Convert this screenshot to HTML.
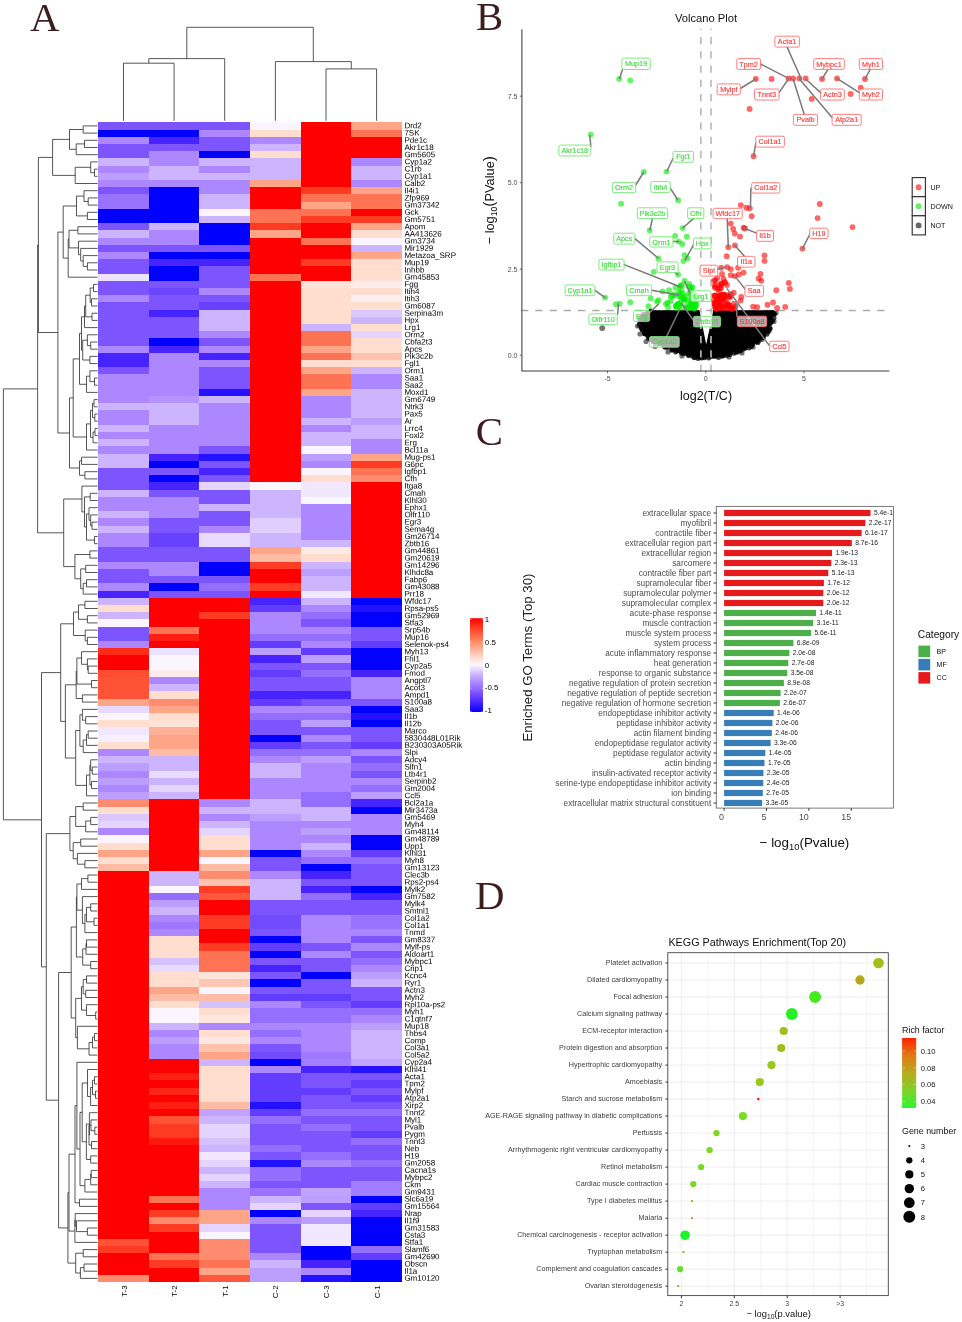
<!DOCTYPE html><html><head><meta charset="utf-8"><title>Figure</title><style>html,body{margin:0;padding:0;background:#fff}body{width:962px;height:1322px;overflow:hidden;font-family:"Liberation Sans",sans-serif}svg{display:block;will-change:transform}</style></head><body>
<svg width="962" height="1322" viewBox="0 0 962 1322" font-family="Liberation Sans, sans-serif">
<rect width="962" height="1322" fill="#fff"/>
<text x="29.9" y="30.5" font-family="Liberation Serif, serif" font-size="40.8" fill="#3d1e1e">A</text>
<text x="476.0" y="30.2" font-family="Liberation Serif, serif" font-size="40.8" fill="#3d1e1e">B</text>
<text x="475.7" y="445" font-family="Liberation Serif, serif" font-size="40.8" fill="#3d1e1e">C</text>
<text x="475.0" y="908.6" font-family="Liberation Serif, serif" font-size="40.8" fill="#3d1e1e">D</text>
<g shape-rendering="crispEdges">
<rect x="98.20" y="122.30" width="152.10" height="7.50" fill="rgb(125,85,255)"/>
<rect x="250.05" y="122.30" width="50.87" height="7.50" fill="rgb(250,245,255)"/>
<rect x="300.67" y="122.30" width="50.87" height="7.50" fill="rgb(255,0,0)"/>
<rect x="351.28" y="122.30" width="50.87" height="7.50" fill="rgb(255,165,135)"/>
<rect x="98.20" y="129.50" width="101.48" height="7.50" fill="rgb(0,0,255)"/>
<rect x="199.43" y="129.50" width="50.87" height="7.50" fill="rgb(172,135,255)"/>
<rect x="250.05" y="129.50" width="50.87" height="7.50" fill="rgb(255,222,208)"/>
<rect x="300.67" y="129.50" width="50.87" height="7.50" fill="rgb(255,0,0)"/>
<rect x="351.28" y="129.50" width="50.87" height="7.50" fill="rgb(255,115,85)"/>
<rect x="98.20" y="136.71" width="50.87" height="7.50" fill="rgb(172,135,255)"/>
<rect x="148.82" y="136.71" width="50.87" height="7.50" fill="rgb(70,35,255)"/>
<rect x="199.43" y="136.71" width="50.87" height="7.50" fill="rgb(125,85,255)"/>
<rect x="250.05" y="136.71" width="50.87" height="7.50" fill="rgb(172,135,255)"/>
<rect x="300.67" y="136.71" width="101.48" height="7.50" fill="rgb(255,0,0)"/>
<rect x="98.20" y="143.91" width="152.10" height="7.50" fill="rgb(125,85,255)"/>
<rect x="250.05" y="143.91" width="50.87" height="7.50" fill="rgb(205,180,255)"/>
<rect x="300.67" y="143.91" width="101.48" height="7.50" fill="rgb(255,0,0)"/>
<rect x="98.20" y="151.11" width="50.87" height="7.50" fill="rgb(125,85,255)"/>
<rect x="148.82" y="151.11" width="50.87" height="7.50" fill="rgb(172,135,255)"/>
<rect x="199.43" y="151.11" width="50.87" height="7.50" fill="rgb(0,0,255)"/>
<rect x="250.05" y="151.11" width="50.87" height="7.50" fill="rgb(255,222,208)"/>
<rect x="300.67" y="151.11" width="101.48" height="7.50" fill="rgb(255,0,0)"/>
<rect x="98.20" y="158.32" width="50.87" height="7.50" fill="rgb(205,180,255)"/>
<rect x="148.82" y="158.32" width="50.87" height="7.50" fill="rgb(172,135,255)"/>
<rect x="199.43" y="158.32" width="101.48" height="7.50" fill="rgb(205,180,255)"/>
<rect x="300.67" y="158.32" width="50.87" height="7.50" fill="rgb(255,0,0)"/>
<rect x="351.28" y="158.32" width="50.87" height="7.50" fill="rgb(172,135,255)"/>
<rect x="98.20" y="165.52" width="50.87" height="7.50" fill="rgb(172,135,255)"/>
<rect x="148.82" y="165.52" width="50.87" height="7.50" fill="rgb(205,180,255)"/>
<rect x="199.43" y="165.52" width="50.87" height="7.50" fill="rgb(172,135,255)"/>
<rect x="250.05" y="165.52" width="50.87" height="7.50" fill="rgb(205,180,255)"/>
<rect x="300.67" y="165.52" width="50.87" height="7.50" fill="rgb(255,0,0)"/>
<rect x="351.28" y="165.52" width="50.87" height="7.50" fill="rgb(205,180,255)"/>
<rect x="98.20" y="172.72" width="50.87" height="7.50" fill="rgb(188,158,255)"/>
<rect x="148.82" y="172.72" width="152.10" height="7.50" fill="rgb(205,180,255)"/>
<rect x="300.67" y="172.72" width="50.87" height="7.50" fill="rgb(255,0,0)"/>
<rect x="351.28" y="172.72" width="50.87" height="7.50" fill="rgb(205,180,255)"/>
<rect x="98.20" y="179.92" width="152.10" height="7.50" fill="rgb(172,135,255)"/>
<rect x="250.05" y="179.92" width="50.87" height="7.50" fill="rgb(255,165,135)"/>
<rect x="300.67" y="179.92" width="50.87" height="7.50" fill="rgb(255,0,0)"/>
<rect x="351.28" y="179.92" width="50.87" height="7.50" fill="rgb(172,135,255)"/>
<rect x="98.20" y="187.13" width="50.87" height="7.50" fill="rgb(125,85,255)"/>
<rect x="148.82" y="187.13" width="50.87" height="7.50" fill="rgb(0,0,255)"/>
<rect x="199.43" y="187.13" width="50.87" height="7.50" fill="rgb(172,135,255)"/>
<rect x="250.05" y="187.13" width="50.87" height="7.50" fill="rgb(255,0,0)"/>
<rect x="300.67" y="187.13" width="50.87" height="7.50" fill="rgb(255,60,35)"/>
<rect x="351.28" y="187.13" width="50.87" height="7.50" fill="rgb(255,165,135)"/>
<rect x="98.20" y="194.33" width="50.87" height="7.50" fill="rgb(153,115,255)"/>
<rect x="148.82" y="194.33" width="50.87" height="7.50" fill="rgb(0,0,255)"/>
<rect x="199.43" y="194.33" width="50.87" height="7.50" fill="rgb(205,180,255)"/>
<rect x="250.05" y="194.33" width="50.87" height="7.50" fill="rgb(255,0,0)"/>
<rect x="300.67" y="194.33" width="101.48" height="7.50" fill="rgb(255,115,85)"/>
<rect x="98.20" y="201.53" width="50.87" height="7.50" fill="rgb(153,115,255)"/>
<rect x="148.82" y="201.53" width="50.87" height="7.50" fill="rgb(0,0,255)"/>
<rect x="199.43" y="201.53" width="50.87" height="7.50" fill="rgb(205,180,255)"/>
<rect x="250.05" y="201.53" width="50.87" height="7.50" fill="rgb(255,0,0)"/>
<rect x="300.67" y="201.53" width="50.87" height="7.50" fill="rgb(255,165,135)"/>
<rect x="351.28" y="201.53" width="50.87" height="7.50" fill="rgb(255,115,85)"/>
<rect x="98.20" y="208.74" width="101.48" height="7.50" fill="rgb(0,0,255)"/>
<rect x="199.43" y="208.74" width="50.87" height="7.50" fill="rgb(250,245,255)"/>
<rect x="250.05" y="208.74" width="101.48" height="7.50" fill="rgb(255,115,85)"/>
<rect x="351.28" y="208.74" width="50.87" height="7.50" fill="rgb(255,0,0)"/>
<rect x="98.20" y="215.94" width="101.48" height="7.50" fill="rgb(0,0,255)"/>
<rect x="199.43" y="215.94" width="50.87" height="7.50" fill="rgb(205,180,255)"/>
<rect x="250.05" y="215.94" width="50.87" height="7.50" fill="rgb(255,115,85)"/>
<rect x="300.67" y="215.94" width="101.48" height="7.50" fill="rgb(255,60,35)"/>
<rect x="98.20" y="223.14" width="50.87" height="7.50" fill="rgb(125,85,255)"/>
<rect x="148.82" y="223.14" width="50.87" height="7.50" fill="rgb(205,180,255)"/>
<rect x="199.43" y="223.14" width="50.87" height="7.50" fill="rgb(0,0,255)"/>
<rect x="250.05" y="223.14" width="50.87" height="7.50" fill="rgb(255,60,35)"/>
<rect x="300.67" y="223.14" width="50.87" height="7.50" fill="rgb(255,0,0)"/>
<rect x="351.28" y="223.14" width="50.87" height="7.50" fill="rgb(255,165,135)"/>
<rect x="98.20" y="230.35" width="50.87" height="7.50" fill="rgb(205,180,255)"/>
<rect x="148.82" y="230.35" width="50.87" height="7.50" fill="rgb(172,135,255)"/>
<rect x="199.43" y="230.35" width="50.87" height="7.50" fill="rgb(0,0,255)"/>
<rect x="250.05" y="230.35" width="50.87" height="7.50" fill="rgb(255,165,135)"/>
<rect x="300.67" y="230.35" width="50.87" height="7.50" fill="rgb(255,0,0)"/>
<rect x="351.28" y="230.35" width="50.87" height="7.50" fill="rgb(255,222,208)"/>
<rect x="98.20" y="237.55" width="101.48" height="7.50" fill="rgb(172,135,255)"/>
<rect x="199.43" y="237.55" width="50.87" height="7.50" fill="rgb(0,0,255)"/>
<rect x="250.05" y="237.55" width="50.87" height="7.50" fill="rgb(255,0,0)"/>
<rect x="300.67" y="237.55" width="50.87" height="7.50" fill="rgb(255,115,85)"/>
<rect x="351.28" y="237.55" width="50.87" height="7.50" fill="rgb(250,245,255)"/>
<rect x="98.20" y="244.75" width="152.10" height="7.50" fill="rgb(125,85,255)"/>
<rect x="250.05" y="244.75" width="101.48" height="7.50" fill="rgb(255,0,0)"/>
<rect x="351.28" y="244.75" width="50.87" height="7.50" fill="rgb(205,180,255)"/>
<rect x="98.20" y="251.96" width="50.87" height="7.50" fill="rgb(172,135,255)"/>
<rect x="148.82" y="251.96" width="101.48" height="7.50" fill="rgb(0,0,255)"/>
<rect x="250.05" y="251.96" width="101.48" height="7.50" fill="rgb(255,0,0)"/>
<rect x="351.28" y="251.96" width="50.87" height="7.50" fill="rgb(255,165,135)"/>
<rect x="98.20" y="259.16" width="50.87" height="7.50" fill="rgb(125,85,255)"/>
<rect x="148.82" y="259.16" width="101.48" height="7.50" fill="rgb(70,35,255)"/>
<rect x="250.05" y="259.16" width="50.87" height="7.50" fill="rgb(255,0,0)"/>
<rect x="300.67" y="259.16" width="50.87" height="7.50" fill="rgb(255,60,35)"/>
<rect x="351.28" y="259.16" width="50.87" height="7.50" fill="rgb(255,222,208)"/>
<rect x="98.20" y="266.36" width="50.87" height="7.50" fill="rgb(125,85,255)"/>
<rect x="148.82" y="266.36" width="50.87" height="7.50" fill="rgb(0,0,255)"/>
<rect x="199.43" y="266.36" width="50.87" height="7.50" fill="rgb(125,85,255)"/>
<rect x="250.05" y="266.36" width="101.48" height="7.50" fill="rgb(255,0,0)"/>
<rect x="351.28" y="266.36" width="50.87" height="7.50" fill="rgb(255,222,208)"/>
<rect x="98.20" y="273.57" width="50.87" height="7.50" fill="rgb(236,226,255)"/>
<rect x="148.82" y="273.57" width="50.87" height="7.50" fill="rgb(0,0,255)"/>
<rect x="199.43" y="273.57" width="50.87" height="7.50" fill="rgb(125,85,255)"/>
<rect x="250.05" y="273.57" width="50.87" height="7.50" fill="rgb(255,115,85)"/>
<rect x="300.67" y="273.57" width="50.87" height="7.50" fill="rgb(255,0,0)"/>
<rect x="351.28" y="273.57" width="50.87" height="7.50" fill="rgb(255,222,208)"/>
<rect x="98.20" y="280.77" width="152.10" height="7.50" fill="rgb(125,85,255)"/>
<rect x="250.05" y="280.77" width="50.87" height="7.50" fill="rgb(255,0,0)"/>
<rect x="300.67" y="280.77" width="50.87" height="7.50" fill="rgb(254,227,217)"/>
<rect x="351.28" y="280.77" width="50.87" height="7.50" fill="rgb(252,236,236)"/>
<rect x="98.20" y="287.97" width="50.87" height="7.50" fill="rgb(125,85,255)"/>
<rect x="148.82" y="287.97" width="50.87" height="7.50" fill="rgb(108,70,255)"/>
<rect x="199.43" y="287.97" width="50.87" height="7.50" fill="rgb(172,135,255)"/>
<rect x="250.05" y="287.97" width="50.87" height="7.50" fill="rgb(255,0,0)"/>
<rect x="300.67" y="287.97" width="101.48" height="7.50" fill="rgb(255,222,208)"/>
<rect x="98.20" y="295.17" width="50.87" height="7.50" fill="rgb(172,135,255)"/>
<rect x="148.82" y="295.17" width="101.48" height="7.50" fill="rgb(125,85,255)"/>
<rect x="250.05" y="295.17" width="50.87" height="7.50" fill="rgb(255,0,0)"/>
<rect x="300.67" y="295.17" width="50.87" height="7.50" fill="rgb(255,222,208)"/>
<rect x="351.28" y="295.17" width="50.87" height="7.50" fill="rgb(252,238,241)"/>
<rect x="98.20" y="302.38" width="101.48" height="7.50" fill="rgb(125,85,255)"/>
<rect x="199.43" y="302.38" width="50.87" height="7.50" fill="rgb(103,65,255)"/>
<rect x="250.05" y="302.38" width="50.87" height="7.50" fill="rgb(255,0,0)"/>
<rect x="300.67" y="302.38" width="101.48" height="7.50" fill="rgb(255,222,208)"/>
<rect x="98.20" y="309.58" width="50.87" height="7.50" fill="rgb(125,85,255)"/>
<rect x="148.82" y="309.58" width="50.87" height="7.50" fill="rgb(70,35,255)"/>
<rect x="199.43" y="309.58" width="50.87" height="7.50" fill="rgb(205,180,255)"/>
<rect x="250.05" y="309.58" width="50.87" height="7.50" fill="rgb(255,0,0)"/>
<rect x="300.67" y="309.58" width="50.87" height="7.50" fill="rgb(255,222,208)"/>
<rect x="351.28" y="309.58" width="50.87" height="7.50" fill="rgb(218,200,255)"/>
<rect x="98.20" y="316.78" width="101.48" height="7.50" fill="rgb(125,85,255)"/>
<rect x="199.43" y="316.78" width="50.87" height="7.50" fill="rgb(205,180,255)"/>
<rect x="250.05" y="316.78" width="50.87" height="7.50" fill="rgb(255,0,0)"/>
<rect x="300.67" y="316.78" width="50.87" height="7.50" fill="rgb(255,222,208)"/>
<rect x="351.28" y="316.78" width="50.87" height="7.50" fill="rgb(205,180,255)"/>
<rect x="98.20" y="323.99" width="101.48" height="7.50" fill="rgb(125,85,255)"/>
<rect x="199.43" y="323.99" width="50.87" height="7.50" fill="rgb(205,180,255)"/>
<rect x="250.05" y="323.99" width="50.87" height="7.50" fill="rgb(255,0,0)"/>
<rect x="300.67" y="323.99" width="50.87" height="7.50" fill="rgb(205,180,255)"/>
<rect x="351.28" y="323.99" width="50.87" height="7.50" fill="rgb(255,222,208)"/>
<rect x="98.20" y="331.19" width="101.48" height="7.50" fill="rgb(125,85,255)"/>
<rect x="199.43" y="331.19" width="50.87" height="7.50" fill="rgb(172,135,255)"/>
<rect x="250.05" y="331.19" width="50.87" height="7.50" fill="rgb(255,0,0)"/>
<rect x="300.67" y="331.19" width="50.87" height="7.50" fill="rgb(255,115,85)"/>
<rect x="351.28" y="331.19" width="50.87" height="7.50" fill="rgb(228,212,255)"/>
<rect x="98.20" y="338.39" width="50.87" height="7.50" fill="rgb(125,85,255)"/>
<rect x="148.82" y="338.39" width="50.87" height="7.50" fill="rgb(0,0,255)"/>
<rect x="199.43" y="338.39" width="50.87" height="7.50" fill="rgb(125,85,255)"/>
<rect x="250.05" y="338.39" width="50.87" height="7.50" fill="rgb(255,0,0)"/>
<rect x="300.67" y="338.39" width="50.87" height="7.50" fill="rgb(255,115,85)"/>
<rect x="351.28" y="338.39" width="50.87" height="7.50" fill="rgb(255,222,208)"/>
<rect x="98.20" y="345.60" width="50.87" height="7.50" fill="rgb(172,135,255)"/>
<rect x="148.82" y="345.60" width="50.87" height="7.50" fill="rgb(70,35,255)"/>
<rect x="199.43" y="345.60" width="50.87" height="7.50" fill="rgb(172,135,255)"/>
<rect x="250.05" y="345.60" width="50.87" height="7.50" fill="rgb(255,0,0)"/>
<rect x="300.67" y="345.60" width="50.87" height="7.50" fill="rgb(255,165,135)"/>
<rect x="351.28" y="345.60" width="50.87" height="7.50" fill="rgb(255,222,208)"/>
<rect x="98.20" y="352.80" width="50.87" height="7.50" fill="rgb(70,35,255)"/>
<rect x="148.82" y="352.80" width="50.87" height="7.50" fill="rgb(172,135,255)"/>
<rect x="199.43" y="352.80" width="50.87" height="7.50" fill="rgb(70,35,255)"/>
<rect x="250.05" y="352.80" width="50.87" height="7.50" fill="rgb(255,0,0)"/>
<rect x="300.67" y="352.80" width="50.87" height="7.50" fill="rgb(255,115,85)"/>
<rect x="351.28" y="352.80" width="50.87" height="7.50" fill="rgb(255,194,172)"/>
<rect x="98.20" y="360.00" width="50.87" height="7.50" fill="rgb(70,35,255)"/>
<rect x="148.82" y="360.00" width="101.48" height="7.50" fill="rgb(172,135,255)"/>
<rect x="250.05" y="360.00" width="50.87" height="7.50" fill="rgb(255,0,0)"/>
<rect x="300.67" y="360.00" width="101.48" height="7.50" fill="rgb(255,222,208)"/>
<rect x="98.20" y="367.21" width="50.87" height="7.50" fill="rgb(125,85,255)"/>
<rect x="148.82" y="367.21" width="50.87" height="7.50" fill="rgb(172,135,255)"/>
<rect x="199.43" y="367.21" width="50.87" height="7.50" fill="rgb(125,85,255)"/>
<rect x="250.05" y="367.21" width="50.87" height="7.50" fill="rgb(255,0,0)"/>
<rect x="300.67" y="367.21" width="50.87" height="7.50" fill="rgb(255,165,135)"/>
<rect x="351.28" y="367.21" width="50.87" height="7.50" fill="rgb(205,180,255)"/>
<rect x="98.20" y="374.41" width="101.48" height="7.50" fill="rgb(172,135,255)"/>
<rect x="199.43" y="374.41" width="50.87" height="7.50" fill="rgb(125,85,255)"/>
<rect x="250.05" y="374.41" width="50.87" height="7.50" fill="rgb(255,0,0)"/>
<rect x="300.67" y="374.41" width="50.87" height="7.50" fill="rgb(255,115,85)"/>
<rect x="351.28" y="374.41" width="50.87" height="7.50" fill="rgb(172,135,255)"/>
<rect x="98.20" y="381.61" width="101.48" height="7.50" fill="rgb(172,135,255)"/>
<rect x="199.43" y="381.61" width="50.87" height="7.50" fill="rgb(125,85,255)"/>
<rect x="250.05" y="381.61" width="50.87" height="7.50" fill="rgb(255,0,0)"/>
<rect x="300.67" y="381.61" width="50.87" height="7.50" fill="rgb(255,115,85)"/>
<rect x="351.28" y="381.61" width="50.87" height="7.50" fill="rgb(172,135,255)"/>
<rect x="98.20" y="388.81" width="101.48" height="7.50" fill="rgb(172,135,255)"/>
<rect x="199.43" y="388.81" width="50.87" height="7.50" fill="rgb(35,18,255)"/>
<rect x="250.05" y="388.81" width="50.87" height="7.50" fill="rgb(255,0,0)"/>
<rect x="300.67" y="388.81" width="50.87" height="7.50" fill="rgb(255,165,135)"/>
<rect x="351.28" y="388.81" width="50.87" height="7.50" fill="rgb(205,180,255)"/>
<rect x="98.20" y="396.02" width="50.87" height="7.50" fill="rgb(172,135,255)"/>
<rect x="148.82" y="396.02" width="50.87" height="7.50" fill="rgb(182,148,255)"/>
<rect x="199.43" y="396.02" width="50.87" height="7.50" fill="rgb(205,180,255)"/>
<rect x="250.05" y="396.02" width="50.87" height="7.50" fill="rgb(255,0,0)"/>
<rect x="300.67" y="396.02" width="50.87" height="7.50" fill="rgb(172,135,255)"/>
<rect x="351.28" y="396.02" width="50.87" height="7.50" fill="rgb(205,180,255)"/>
<rect x="98.20" y="403.22" width="101.48" height="7.50" fill="rgb(205,180,255)"/>
<rect x="199.43" y="403.22" width="50.87" height="7.50" fill="rgb(172,135,255)"/>
<rect x="250.05" y="403.22" width="50.87" height="7.50" fill="rgb(255,0,0)"/>
<rect x="300.67" y="403.22" width="50.87" height="7.50" fill="rgb(172,135,255)"/>
<rect x="351.28" y="403.22" width="50.87" height="7.50" fill="rgb(205,180,255)"/>
<rect x="98.20" y="410.42" width="50.87" height="7.50" fill="rgb(172,135,255)"/>
<rect x="148.82" y="410.42" width="50.87" height="7.50" fill="rgb(205,180,255)"/>
<rect x="199.43" y="410.42" width="50.87" height="7.50" fill="rgb(172,135,255)"/>
<rect x="250.05" y="410.42" width="50.87" height="7.50" fill="rgb(255,0,0)"/>
<rect x="300.67" y="410.42" width="50.87" height="7.50" fill="rgb(172,135,255)"/>
<rect x="351.28" y="410.42" width="50.87" height="7.50" fill="rgb(205,180,255)"/>
<rect x="98.20" y="417.63" width="50.87" height="7.50" fill="rgb(172,135,255)"/>
<rect x="148.82" y="417.63" width="50.87" height="7.50" fill="rgb(205,180,255)"/>
<rect x="199.43" y="417.63" width="50.87" height="7.50" fill="rgb(172,135,255)"/>
<rect x="250.05" y="417.63" width="50.87" height="7.50" fill="rgb(255,0,0)"/>
<rect x="300.67" y="417.63" width="50.87" height="7.50" fill="rgb(205,180,255)"/>
<rect x="351.28" y="417.63" width="50.87" height="7.50" fill="rgb(188,158,255)"/>
<rect x="98.20" y="424.83" width="50.87" height="7.50" fill="rgb(205,180,255)"/>
<rect x="148.82" y="424.83" width="101.48" height="7.50" fill="rgb(172,135,255)"/>
<rect x="250.05" y="424.83" width="50.87" height="7.50" fill="rgb(255,0,0)"/>
<rect x="300.67" y="424.83" width="50.87" height="7.50" fill="rgb(172,135,255)"/>
<rect x="351.28" y="424.83" width="50.87" height="7.50" fill="rgb(205,180,255)"/>
<rect x="98.20" y="432.03" width="152.10" height="7.50" fill="rgb(172,135,255)"/>
<rect x="250.05" y="432.03" width="50.87" height="7.50" fill="rgb(255,0,0)"/>
<rect x="300.67" y="432.03" width="101.48" height="7.50" fill="rgb(205,180,255)"/>
<rect x="98.20" y="439.24" width="50.87" height="7.50" fill="rgb(205,180,255)"/>
<rect x="148.82" y="439.24" width="101.48" height="7.50" fill="rgb(172,135,255)"/>
<rect x="250.05" y="439.24" width="50.87" height="7.50" fill="rgb(255,0,0)"/>
<rect x="300.67" y="439.24" width="50.87" height="7.50" fill="rgb(205,180,255)"/>
<rect x="351.28" y="439.24" width="50.87" height="7.50" fill="rgb(172,135,255)"/>
<rect x="98.20" y="446.44" width="101.48" height="7.50" fill="rgb(172,135,255)"/>
<rect x="199.43" y="446.44" width="50.87" height="7.50" fill="rgb(125,85,255)"/>
<rect x="250.05" y="446.44" width="50.87" height="7.50" fill="rgb(255,0,0)"/>
<rect x="300.67" y="446.44" width="50.87" height="7.50" fill="rgb(250,245,255)"/>
<rect x="351.28" y="446.44" width="50.87" height="7.50" fill="rgb(172,135,255)"/>
<rect x="98.20" y="453.64" width="50.87" height="7.50" fill="rgb(205,180,255)"/>
<rect x="148.82" y="453.64" width="50.87" height="7.50" fill="rgb(70,35,255)"/>
<rect x="199.43" y="453.64" width="50.87" height="7.50" fill="rgb(35,18,255)"/>
<rect x="250.05" y="453.64" width="50.87" height="7.50" fill="rgb(255,0,0)"/>
<rect x="300.67" y="453.64" width="50.87" height="7.50" fill="rgb(188,158,255)"/>
<rect x="351.28" y="453.64" width="50.87" height="7.50" fill="rgb(255,165,135)"/>
<rect x="98.20" y="460.85" width="50.87" height="7.50" fill="rgb(205,180,255)"/>
<rect x="148.82" y="460.85" width="50.87" height="7.50" fill="rgb(0,0,255)"/>
<rect x="199.43" y="460.85" width="50.87" height="7.50" fill="rgb(125,85,255)"/>
<rect x="250.05" y="460.85" width="50.87" height="7.50" fill="rgb(255,0,0)"/>
<rect x="300.67" y="460.85" width="50.87" height="7.50" fill="rgb(172,135,255)"/>
<rect x="351.28" y="460.85" width="50.87" height="7.50" fill="rgb(255,60,35)"/>
<rect x="98.20" y="468.05" width="101.48" height="7.50" fill="rgb(125,85,255)"/>
<rect x="199.43" y="468.05" width="50.87" height="7.50" fill="rgb(70,35,255)"/>
<rect x="250.05" y="468.05" width="50.87" height="7.50" fill="rgb(255,0,0)"/>
<rect x="300.67" y="468.05" width="50.87" height="7.50" fill="rgb(250,245,255)"/>
<rect x="351.28" y="468.05" width="50.87" height="7.50" fill="rgb(255,115,85)"/>
<rect x="98.20" y="475.25" width="50.87" height="7.50" fill="rgb(125,85,255)"/>
<rect x="148.82" y="475.25" width="50.87" height="7.50" fill="rgb(0,0,255)"/>
<rect x="199.43" y="475.25" width="50.87" height="7.50" fill="rgb(125,85,255)"/>
<rect x="250.05" y="475.25" width="50.87" height="7.50" fill="rgb(255,0,0)"/>
<rect x="300.67" y="475.25" width="50.87" height="7.50" fill="rgb(255,222,208)"/>
<rect x="351.28" y="475.25" width="50.87" height="7.50" fill="rgb(255,140,110)"/>
<rect x="98.20" y="482.46" width="50.87" height="7.50" fill="rgb(125,85,255)"/>
<rect x="148.82" y="482.46" width="50.87" height="7.50" fill="rgb(70,35,255)"/>
<rect x="199.43" y="482.46" width="50.87" height="7.50" fill="rgb(228,212,255)"/>
<rect x="250.05" y="482.46" width="50.87" height="7.50" fill="rgb(250,245,255)"/>
<rect x="300.67" y="482.46" width="50.87" height="7.50" fill="rgb(241,232,255)"/>
<rect x="351.28" y="482.46" width="50.87" height="7.50" fill="rgb(255,0,0)"/>
<rect x="98.20" y="489.66" width="50.87" height="7.50" fill="rgb(205,180,255)"/>
<rect x="148.82" y="489.66" width="101.48" height="7.50" fill="rgb(125,85,255)"/>
<rect x="250.05" y="489.66" width="50.87" height="7.50" fill="rgb(205,180,255)"/>
<rect x="300.67" y="489.66" width="50.87" height="7.50" fill="rgb(241,232,255)"/>
<rect x="351.28" y="489.66" width="50.87" height="7.50" fill="rgb(255,0,0)"/>
<rect x="98.20" y="496.86" width="101.48" height="7.50" fill="rgb(172,135,255)"/>
<rect x="199.43" y="496.86" width="50.87" height="7.50" fill="rgb(125,85,255)"/>
<rect x="250.05" y="496.86" width="50.87" height="7.50" fill="rgb(205,180,255)"/>
<rect x="300.67" y="496.86" width="50.87" height="7.50" fill="rgb(250,245,255)"/>
<rect x="351.28" y="496.86" width="50.87" height="7.50" fill="rgb(255,0,0)"/>
<rect x="98.20" y="504.06" width="101.48" height="7.50" fill="rgb(172,135,255)"/>
<rect x="199.43" y="504.06" width="101.48" height="7.50" fill="rgb(205,180,255)"/>
<rect x="300.67" y="504.06" width="50.87" height="7.50" fill="rgb(172,135,255)"/>
<rect x="351.28" y="504.06" width="50.87" height="7.50" fill="rgb(255,0,0)"/>
<rect x="98.20" y="511.27" width="50.87" height="7.50" fill="rgb(205,180,255)"/>
<rect x="148.82" y="511.27" width="50.87" height="7.50" fill="rgb(172,135,255)"/>
<rect x="199.43" y="511.27" width="50.87" height="7.50" fill="rgb(125,85,255)"/>
<rect x="250.05" y="511.27" width="50.87" height="7.50" fill="rgb(205,180,255)"/>
<rect x="300.67" y="511.27" width="50.87" height="7.50" fill="rgb(172,135,255)"/>
<rect x="351.28" y="511.27" width="50.87" height="7.50" fill="rgb(255,0,0)"/>
<rect x="98.20" y="518.47" width="50.87" height="7.50" fill="rgb(172,135,255)"/>
<rect x="148.82" y="518.47" width="101.48" height="7.50" fill="rgb(125,85,255)"/>
<rect x="250.05" y="518.47" width="50.87" height="7.50" fill="rgb(223,206,255)"/>
<rect x="300.67" y="518.47" width="50.87" height="7.50" fill="rgb(172,135,255)"/>
<rect x="351.28" y="518.47" width="50.87" height="7.50" fill="rgb(255,0,0)"/>
<rect x="98.20" y="525.67" width="50.87" height="7.50" fill="rgb(205,180,255)"/>
<rect x="148.82" y="525.67" width="50.87" height="7.50" fill="rgb(125,85,255)"/>
<rect x="199.43" y="525.67" width="50.87" height="7.50" fill="rgb(172,135,255)"/>
<rect x="250.05" y="525.67" width="50.87" height="7.50" fill="rgb(223,206,255)"/>
<rect x="300.67" y="525.67" width="50.87" height="7.50" fill="rgb(172,135,255)"/>
<rect x="351.28" y="525.67" width="50.87" height="7.50" fill="rgb(255,0,0)"/>
<rect x="98.20" y="532.88" width="50.87" height="7.50" fill="rgb(172,135,255)"/>
<rect x="148.82" y="532.88" width="50.87" height="7.50" fill="rgb(103,65,255)"/>
<rect x="199.43" y="532.88" width="50.87" height="7.50" fill="rgb(232,219,255)"/>
<rect x="250.05" y="532.88" width="50.87" height="7.50" fill="rgb(205,180,255)"/>
<rect x="300.67" y="532.88" width="50.87" height="7.50" fill="rgb(172,135,255)"/>
<rect x="351.28" y="532.88" width="50.87" height="7.50" fill="rgb(255,0,0)"/>
<rect x="98.20" y="540.08" width="50.87" height="7.50" fill="rgb(172,135,255)"/>
<rect x="148.82" y="540.08" width="50.87" height="7.50" fill="rgb(103,65,255)"/>
<rect x="199.43" y="540.08" width="50.87" height="7.50" fill="rgb(232,219,255)"/>
<rect x="250.05" y="540.08" width="101.48" height="7.50" fill="rgb(205,180,255)"/>
<rect x="351.28" y="540.08" width="50.87" height="7.50" fill="rgb(255,0,0)"/>
<rect x="98.20" y="547.28" width="152.10" height="7.50" fill="rgb(125,85,255)"/>
<rect x="250.05" y="547.28" width="50.87" height="7.50" fill="rgb(255,165,135)"/>
<rect x="300.67" y="547.28" width="50.87" height="7.50" fill="rgb(252,234,232)"/>
<rect x="351.28" y="547.28" width="50.87" height="7.50" fill="rgb(255,0,0)"/>
<rect x="98.20" y="554.49" width="152.10" height="7.50" fill="rgb(125,85,255)"/>
<rect x="250.05" y="554.49" width="50.87" height="7.50" fill="rgb(255,188,164)"/>
<rect x="300.67" y="554.49" width="50.87" height="7.50" fill="rgb(255,222,208)"/>
<rect x="351.28" y="554.49" width="50.87" height="7.50" fill="rgb(255,0,0)"/>
<rect x="98.20" y="561.69" width="101.48" height="7.50" fill="rgb(172,135,255)"/>
<rect x="199.43" y="561.69" width="50.87" height="7.50" fill="rgb(0,0,255)"/>
<rect x="250.05" y="561.69" width="50.87" height="7.50" fill="rgb(255,60,35)"/>
<rect x="300.67" y="561.69" width="50.87" height="7.50" fill="rgb(205,180,255)"/>
<rect x="351.28" y="561.69" width="50.87" height="7.50" fill="rgb(255,0,0)"/>
<rect x="98.20" y="568.89" width="50.87" height="7.50" fill="rgb(125,85,255)"/>
<rect x="148.82" y="568.89" width="50.87" height="7.50" fill="rgb(172,135,255)"/>
<rect x="199.43" y="568.89" width="50.87" height="7.50" fill="rgb(0,0,255)"/>
<rect x="250.05" y="568.89" width="50.87" height="7.50" fill="rgb(255,0,0)"/>
<rect x="300.67" y="568.89" width="50.87" height="7.50" fill="rgb(188,158,255)"/>
<rect x="351.28" y="568.89" width="50.87" height="7.50" fill="rgb(255,0,0)"/>
<rect x="98.20" y="576.10" width="152.10" height="7.50" fill="rgb(125,85,255)"/>
<rect x="250.05" y="576.10" width="50.87" height="7.50" fill="rgb(255,0,0)"/>
<rect x="300.67" y="576.10" width="50.87" height="7.50" fill="rgb(205,180,255)"/>
<rect x="351.28" y="576.10" width="50.87" height="7.50" fill="rgb(255,0,0)"/>
<rect x="98.20" y="583.30" width="50.87" height="7.50" fill="rgb(172,135,255)"/>
<rect x="148.82" y="583.30" width="50.87" height="7.50" fill="rgb(0,0,255)"/>
<rect x="199.43" y="583.30" width="50.87" height="7.50" fill="rgb(148,110,255)"/>
<rect x="250.05" y="583.30" width="50.87" height="7.50" fill="rgb(255,60,35)"/>
<rect x="300.67" y="583.30" width="50.87" height="7.50" fill="rgb(205,180,255)"/>
<rect x="351.28" y="583.30" width="50.87" height="7.50" fill="rgb(255,0,0)"/>
<rect x="98.20" y="590.50" width="50.87" height="7.50" fill="rgb(70,35,255)"/>
<rect x="148.82" y="590.50" width="101.48" height="7.50" fill="rgb(125,85,255)"/>
<rect x="250.05" y="590.50" width="50.87" height="7.50" fill="rgb(255,0,0)"/>
<rect x="300.67" y="590.50" width="50.87" height="7.50" fill="rgb(241,232,255)"/>
<rect x="351.28" y="590.50" width="50.87" height="7.50" fill="rgb(255,0,0)"/>
<rect x="98.20" y="597.70" width="50.87" height="7.50" fill="rgb(205,180,255)"/>
<rect x="148.82" y="597.70" width="101.48" height="7.50" fill="rgb(255,0,0)"/>
<rect x="250.05" y="597.70" width="50.87" height="7.50" fill="rgb(70,35,255)"/>
<rect x="300.67" y="597.70" width="50.87" height="7.50" fill="rgb(205,180,255)"/>
<rect x="351.28" y="597.70" width="50.87" height="7.50" fill="rgb(0,0,255)"/>
<rect x="98.20" y="604.91" width="50.87" height="7.50" fill="rgb(255,222,208)"/>
<rect x="148.82" y="604.91" width="101.48" height="7.50" fill="rgb(255,0,0)"/>
<rect x="250.05" y="604.91" width="50.87" height="7.50" fill="rgb(98,60,255)"/>
<rect x="300.67" y="604.91" width="50.87" height="7.50" fill="rgb(172,135,255)"/>
<rect x="351.28" y="604.91" width="50.87" height="7.50" fill="rgb(35,18,255)"/>
<rect x="98.20" y="612.11" width="50.87" height="7.50" fill="rgb(205,180,255)"/>
<rect x="148.82" y="612.11" width="50.87" height="7.50" fill="rgb(255,0,0)"/>
<rect x="199.43" y="612.11" width="50.87" height="7.50" fill="rgb(255,60,35)"/>
<rect x="250.05" y="612.11" width="50.87" height="7.50" fill="rgb(172,135,255)"/>
<rect x="300.67" y="612.11" width="50.87" height="7.50" fill="rgb(148,110,255)"/>
<rect x="351.28" y="612.11" width="50.87" height="7.50" fill="rgb(0,0,255)"/>
<rect x="98.20" y="619.31" width="50.87" height="7.50" fill="rgb(250,245,255)"/>
<rect x="148.82" y="619.31" width="101.48" height="7.50" fill="rgb(255,0,0)"/>
<rect x="250.05" y="619.31" width="50.87" height="7.50" fill="rgb(172,135,255)"/>
<rect x="300.67" y="619.31" width="50.87" height="7.50" fill="rgb(125,85,255)"/>
<rect x="351.28" y="619.31" width="50.87" height="7.50" fill="rgb(0,0,255)"/>
<rect x="98.20" y="626.52" width="50.87" height="7.50" fill="rgb(125,85,255)"/>
<rect x="148.82" y="626.52" width="50.87" height="7.50" fill="rgb(255,115,85)"/>
<rect x="199.43" y="626.52" width="50.87" height="7.50" fill="rgb(255,0,0)"/>
<rect x="250.05" y="626.52" width="101.48" height="7.50" fill="rgb(172,135,255)"/>
<rect x="351.28" y="626.52" width="50.87" height="7.50" fill="rgb(125,85,255)"/>
<rect x="98.20" y="633.72" width="50.87" height="7.50" fill="rgb(125,85,255)"/>
<rect x="148.82" y="633.72" width="50.87" height="7.50" fill="rgb(255,30,18)"/>
<rect x="199.43" y="633.72" width="50.87" height="7.50" fill="rgb(255,0,0)"/>
<rect x="250.05" y="633.72" width="101.48" height="7.50" fill="rgb(148,110,255)"/>
<rect x="351.28" y="633.72" width="50.87" height="7.50" fill="rgb(125,85,255)"/>
<rect x="98.20" y="640.92" width="50.87" height="7.50" fill="rgb(172,135,255)"/>
<rect x="148.82" y="640.92" width="101.48" height="7.50" fill="rgb(255,0,0)"/>
<rect x="250.05" y="640.92" width="50.87" height="7.50" fill="rgb(98,60,255)"/>
<rect x="300.67" y="640.92" width="50.87" height="7.50" fill="rgb(172,135,255)"/>
<rect x="351.28" y="640.92" width="50.87" height="7.50" fill="rgb(98,60,255)"/>
<rect x="98.20" y="648.13" width="50.87" height="7.50" fill="rgb(255,42,24)"/>
<rect x="148.82" y="648.13" width="50.87" height="7.50" fill="rgb(236,226,255)"/>
<rect x="199.43" y="648.13" width="50.87" height="7.50" fill="rgb(255,0,0)"/>
<rect x="250.05" y="648.13" width="50.87" height="7.50" fill="rgb(188,158,255)"/>
<rect x="300.67" y="648.13" width="50.87" height="7.50" fill="rgb(98,60,255)"/>
<rect x="351.28" y="648.13" width="50.87" height="7.50" fill="rgb(0,0,255)"/>
<rect x="98.20" y="655.33" width="50.87" height="7.50" fill="rgb(255,0,0)"/>
<rect x="148.82" y="655.33" width="50.87" height="7.50" fill="rgb(250,245,255)"/>
<rect x="199.43" y="655.33" width="50.87" height="7.50" fill="rgb(255,0,0)"/>
<rect x="250.05" y="655.33" width="50.87" height="7.50" fill="rgb(70,35,255)"/>
<rect x="300.67" y="655.33" width="50.87" height="7.50" fill="rgb(188,158,255)"/>
<rect x="351.28" y="655.33" width="50.87" height="7.50" fill="rgb(0,0,255)"/>
<rect x="98.20" y="662.53" width="50.87" height="7.50" fill="rgb(255,0,0)"/>
<rect x="148.82" y="662.53" width="50.87" height="7.50" fill="rgb(250,245,255)"/>
<rect x="199.43" y="662.53" width="50.87" height="7.50" fill="rgb(255,0,0)"/>
<rect x="250.05" y="662.53" width="101.48" height="7.50" fill="rgb(125,85,255)"/>
<rect x="351.28" y="662.53" width="50.87" height="7.50" fill="rgb(0,0,255)"/>
<rect x="98.20" y="669.74" width="50.87" height="7.50" fill="rgb(255,77,50)"/>
<rect x="148.82" y="669.74" width="50.87" height="7.50" fill="rgb(252,236,236)"/>
<rect x="199.43" y="669.74" width="50.87" height="7.50" fill="rgb(255,0,0)"/>
<rect x="250.05" y="669.74" width="50.87" height="7.50" fill="rgb(98,60,255)"/>
<rect x="300.67" y="669.74" width="50.87" height="7.50" fill="rgb(148,110,255)"/>
<rect x="351.28" y="669.74" width="50.87" height="7.50" fill="rgb(70,35,255)"/>
<rect x="98.20" y="676.94" width="50.87" height="7.50" fill="rgb(255,82,55)"/>
<rect x="148.82" y="676.94" width="50.87" height="7.50" fill="rgb(172,135,255)"/>
<rect x="199.43" y="676.94" width="50.87" height="7.50" fill="rgb(255,0,0)"/>
<rect x="250.05" y="676.94" width="101.48" height="7.50" fill="rgb(125,85,255)"/>
<rect x="351.28" y="676.94" width="50.87" height="7.50" fill="rgb(172,135,255)"/>
<rect x="98.20" y="684.14" width="50.87" height="7.50" fill="rgb(255,82,55)"/>
<rect x="148.82" y="684.14" width="50.87" height="7.50" fill="rgb(205,180,255)"/>
<rect x="199.43" y="684.14" width="50.87" height="7.50" fill="rgb(255,0,0)"/>
<rect x="250.05" y="684.14" width="101.48" height="7.50" fill="rgb(125,85,255)"/>
<rect x="351.28" y="684.14" width="50.87" height="7.50" fill="rgb(172,135,255)"/>
<rect x="98.20" y="691.35" width="50.87" height="7.50" fill="rgb(255,82,55)"/>
<rect x="148.82" y="691.35" width="50.87" height="7.50" fill="rgb(255,222,208)"/>
<rect x="199.43" y="691.35" width="50.87" height="7.50" fill="rgb(255,0,0)"/>
<rect x="250.05" y="691.35" width="101.48" height="7.50" fill="rgb(70,35,255)"/>
<rect x="351.28" y="691.35" width="50.87" height="7.50" fill="rgb(172,135,255)"/>
<rect x="98.20" y="698.55" width="50.87" height="7.50" fill="rgb(255,165,135)"/>
<rect x="148.82" y="698.55" width="50.87" height="7.50" fill="rgb(255,140,110)"/>
<rect x="199.43" y="698.55" width="50.87" height="7.50" fill="rgb(255,0,0)"/>
<rect x="250.05" y="698.55" width="50.87" height="7.50" fill="rgb(98,60,255)"/>
<rect x="300.67" y="698.55" width="101.48" height="7.50" fill="rgb(125,85,255)"/>
<rect x="98.20" y="705.75" width="50.87" height="7.50" fill="rgb(232,219,255)"/>
<rect x="148.82" y="705.75" width="50.87" height="7.50" fill="rgb(255,165,135)"/>
<rect x="199.43" y="705.75" width="50.87" height="7.50" fill="rgb(255,0,0)"/>
<rect x="250.05" y="705.75" width="101.48" height="7.50" fill="rgb(172,135,255)"/>
<rect x="351.28" y="705.75" width="50.87" height="7.50" fill="rgb(0,0,255)"/>
<rect x="98.20" y="712.95" width="50.87" height="7.50" fill="rgb(250,245,255)"/>
<rect x="148.82" y="712.95" width="50.87" height="7.50" fill="rgb(255,222,208)"/>
<rect x="199.43" y="712.95" width="50.87" height="7.50" fill="rgb(255,0,0)"/>
<rect x="250.05" y="712.95" width="101.48" height="7.50" fill="rgb(148,110,255)"/>
<rect x="351.28" y="712.95" width="50.87" height="7.50" fill="rgb(35,18,255)"/>
<rect x="98.20" y="720.16" width="50.87" height="7.50" fill="rgb(255,222,208)"/>
<rect x="148.82" y="720.16" width="50.87" height="7.50" fill="rgb(254,227,217)"/>
<rect x="199.43" y="720.16" width="50.87" height="7.50" fill="rgb(255,0,0)"/>
<rect x="250.05" y="720.16" width="50.87" height="7.50" fill="rgb(125,85,255)"/>
<rect x="300.67" y="720.16" width="50.87" height="7.50" fill="rgb(188,158,255)"/>
<rect x="351.28" y="720.16" width="50.87" height="7.50" fill="rgb(0,0,255)"/>
<rect x="98.20" y="727.36" width="50.87" height="7.50" fill="rgb(241,232,255)"/>
<rect x="148.82" y="727.36" width="50.87" height="7.50" fill="rgb(255,176,150)"/>
<rect x="199.43" y="727.36" width="50.87" height="7.50" fill="rgb(255,0,0)"/>
<rect x="250.05" y="727.36" width="152.10" height="7.50" fill="rgb(125,85,255)"/>
<rect x="98.20" y="734.56" width="50.87" height="7.50" fill="rgb(246,239,255)"/>
<rect x="148.82" y="734.56" width="50.87" height="7.50" fill="rgb(255,165,135)"/>
<rect x="199.43" y="734.56" width="50.87" height="7.50" fill="rgb(255,0,0)"/>
<rect x="250.05" y="734.56" width="50.87" height="7.50" fill="rgb(0,0,255)"/>
<rect x="300.67" y="734.56" width="50.87" height="7.50" fill="rgb(172,135,255)"/>
<rect x="351.28" y="734.56" width="50.87" height="7.50" fill="rgb(125,85,255)"/>
<rect x="98.20" y="741.77" width="50.87" height="7.50" fill="rgb(255,222,208)"/>
<rect x="148.82" y="741.77" width="50.87" height="7.50" fill="rgb(255,165,135)"/>
<rect x="199.43" y="741.77" width="50.87" height="7.50" fill="rgb(255,0,0)"/>
<rect x="250.05" y="741.77" width="50.87" height="7.50" fill="rgb(98,60,255)"/>
<rect x="300.67" y="741.77" width="50.87" height="7.50" fill="rgb(125,85,255)"/>
<rect x="351.28" y="741.77" width="50.87" height="7.50" fill="rgb(98,60,255)"/>
<rect x="98.20" y="748.97" width="50.87" height="7.50" fill="rgb(172,135,255)"/>
<rect x="148.82" y="748.97" width="50.87" height="7.50" fill="rgb(255,188,164)"/>
<rect x="199.43" y="748.97" width="50.87" height="7.50" fill="rgb(255,0,0)"/>
<rect x="250.05" y="748.97" width="101.48" height="7.50" fill="rgb(148,110,255)"/>
<rect x="351.28" y="748.97" width="50.87" height="7.50" fill="rgb(172,135,255)"/>
<rect x="98.20" y="756.17" width="101.48" height="7.50" fill="rgb(205,180,255)"/>
<rect x="199.43" y="756.17" width="50.87" height="7.50" fill="rgb(255,0,0)"/>
<rect x="250.05" y="756.17" width="50.87" height="7.50" fill="rgb(172,135,255)"/>
<rect x="300.67" y="756.17" width="50.87" height="7.50" fill="rgb(188,158,255)"/>
<rect x="351.28" y="756.17" width="50.87" height="7.50" fill="rgb(125,85,255)"/>
<rect x="98.20" y="763.38" width="50.87" height="7.50" fill="rgb(188,158,255)"/>
<rect x="148.82" y="763.38" width="50.87" height="7.50" fill="rgb(205,180,255)"/>
<rect x="199.43" y="763.38" width="50.87" height="7.50" fill="rgb(255,0,0)"/>
<rect x="250.05" y="763.38" width="50.87" height="7.50" fill="rgb(205,180,255)"/>
<rect x="300.67" y="763.38" width="50.87" height="7.50" fill="rgb(172,135,255)"/>
<rect x="351.28" y="763.38" width="50.87" height="7.50" fill="rgb(148,110,255)"/>
<rect x="98.20" y="770.58" width="50.87" height="7.50" fill="rgb(172,135,255)"/>
<rect x="148.82" y="770.58" width="50.87" height="7.50" fill="rgb(232,219,255)"/>
<rect x="199.43" y="770.58" width="50.87" height="7.50" fill="rgb(255,0,0)"/>
<rect x="250.05" y="770.58" width="50.87" height="7.50" fill="rgb(205,180,255)"/>
<rect x="300.67" y="770.58" width="50.87" height="7.50" fill="rgb(172,135,255)"/>
<rect x="351.28" y="770.58" width="50.87" height="7.50" fill="rgb(125,85,255)"/>
<rect x="98.20" y="777.78" width="50.87" height="7.50" fill="rgb(188,158,255)"/>
<rect x="148.82" y="777.78" width="50.87" height="7.50" fill="rgb(205,180,255)"/>
<rect x="199.43" y="777.78" width="50.87" height="7.50" fill="rgb(255,0,0)"/>
<rect x="250.05" y="777.78" width="152.10" height="7.50" fill="rgb(172,135,255)"/>
<rect x="98.20" y="784.99" width="50.87" height="7.50" fill="rgb(172,135,255)"/>
<rect x="148.82" y="784.99" width="50.87" height="7.50" fill="rgb(228,212,255)"/>
<rect x="199.43" y="784.99" width="50.87" height="7.50" fill="rgb(255,0,0)"/>
<rect x="250.05" y="784.99" width="101.48" height="7.50" fill="rgb(172,135,255)"/>
<rect x="351.28" y="784.99" width="50.87" height="7.50" fill="rgb(148,110,255)"/>
<rect x="98.20" y="792.19" width="50.87" height="7.50" fill="rgb(188,158,255)"/>
<rect x="148.82" y="792.19" width="50.87" height="7.50" fill="rgb(205,180,255)"/>
<rect x="199.43" y="792.19" width="50.87" height="7.50" fill="rgb(255,0,0)"/>
<rect x="250.05" y="792.19" width="50.87" height="7.50" fill="rgb(172,135,255)"/>
<rect x="300.67" y="792.19" width="50.87" height="7.50" fill="rgb(148,110,255)"/>
<rect x="351.28" y="792.19" width="50.87" height="7.50" fill="rgb(188,158,255)"/>
<rect x="98.20" y="799.39" width="50.87" height="7.50" fill="rgb(255,140,110)"/>
<rect x="148.82" y="799.39" width="50.87" height="7.50" fill="rgb(255,0,0)"/>
<rect x="199.43" y="799.39" width="50.87" height="7.50" fill="rgb(172,135,255)"/>
<rect x="250.05" y="799.39" width="50.87" height="7.50" fill="rgb(205,180,255)"/>
<rect x="300.67" y="799.39" width="50.87" height="7.50" fill="rgb(148,110,255)"/>
<rect x="351.28" y="799.39" width="50.87" height="7.50" fill="rgb(70,35,255)"/>
<rect x="98.20" y="806.60" width="50.87" height="7.50" fill="rgb(255,222,208)"/>
<rect x="148.82" y="806.60" width="50.87" height="7.50" fill="rgb(255,0,0)"/>
<rect x="199.43" y="806.60" width="152.10" height="7.50" fill="rgb(205,180,255)"/>
<rect x="351.28" y="806.60" width="50.87" height="7.50" fill="rgb(0,0,255)"/>
<rect x="98.20" y="813.80" width="50.87" height="7.50" fill="rgb(218,200,255)"/>
<rect x="148.82" y="813.80" width="50.87" height="7.50" fill="rgb(255,0,0)"/>
<rect x="199.43" y="813.80" width="50.87" height="7.50" fill="rgb(172,135,255)"/>
<rect x="250.05" y="813.80" width="50.87" height="7.50" fill="rgb(188,158,255)"/>
<rect x="300.67" y="813.80" width="50.87" height="7.50" fill="rgb(205,180,255)"/>
<rect x="351.28" y="813.80" width="50.87" height="7.50" fill="rgb(172,135,255)"/>
<rect x="98.20" y="821.00" width="50.87" height="7.50" fill="rgb(228,212,255)"/>
<rect x="148.82" y="821.00" width="50.87" height="7.50" fill="rgb(255,0,0)"/>
<rect x="199.43" y="821.00" width="50.87" height="7.50" fill="rgb(205,180,255)"/>
<rect x="250.05" y="821.00" width="152.10" height="7.50" fill="rgb(172,135,255)"/>
<rect x="98.20" y="828.20" width="50.87" height="7.50" fill="rgb(172,135,255)"/>
<rect x="148.82" y="828.20" width="50.87" height="7.50" fill="rgb(255,0,0)"/>
<rect x="199.43" y="828.20" width="50.87" height="7.50" fill="rgb(228,212,255)"/>
<rect x="250.05" y="828.20" width="50.87" height="7.50" fill="rgb(172,135,255)"/>
<rect x="300.67" y="828.20" width="50.87" height="7.50" fill="rgb(188,158,255)"/>
<rect x="351.28" y="828.20" width="50.87" height="7.50" fill="rgb(172,135,255)"/>
<rect x="98.20" y="835.41" width="50.87" height="7.50" fill="rgb(250,245,255)"/>
<rect x="148.82" y="835.41" width="50.87" height="7.50" fill="rgb(255,0,0)"/>
<rect x="199.43" y="835.41" width="50.87" height="7.50" fill="rgb(255,222,208)"/>
<rect x="250.05" y="835.41" width="101.48" height="7.50" fill="rgb(172,135,255)"/>
<rect x="351.28" y="835.41" width="50.87" height="7.50" fill="rgb(0,0,255)"/>
<rect x="98.20" y="842.61" width="50.87" height="7.50" fill="rgb(255,222,208)"/>
<rect x="148.82" y="842.61" width="50.87" height="7.50" fill="rgb(255,0,0)"/>
<rect x="199.43" y="842.61" width="50.87" height="7.50" fill="rgb(255,222,208)"/>
<rect x="250.05" y="842.61" width="50.87" height="7.50" fill="rgb(172,135,255)"/>
<rect x="300.67" y="842.61" width="50.87" height="7.50" fill="rgb(205,180,255)"/>
<rect x="351.28" y="842.61" width="50.87" height="7.50" fill="rgb(0,0,255)"/>
<rect x="98.20" y="849.81" width="50.87" height="7.50" fill="rgb(255,165,135)"/>
<rect x="148.82" y="849.81" width="50.87" height="7.50" fill="rgb(255,0,0)"/>
<rect x="199.43" y="849.81" width="50.87" height="7.50" fill="rgb(255,165,135)"/>
<rect x="250.05" y="849.81" width="50.87" height="7.50" fill="rgb(0,0,255)"/>
<rect x="300.67" y="849.81" width="50.87" height="7.50" fill="rgb(172,135,255)"/>
<rect x="351.28" y="849.81" width="50.87" height="7.50" fill="rgb(98,60,255)"/>
<rect x="98.20" y="857.02" width="50.87" height="7.50" fill="rgb(255,222,208)"/>
<rect x="148.82" y="857.02" width="50.87" height="7.50" fill="rgb(255,0,0)"/>
<rect x="199.43" y="857.02" width="50.87" height="7.50" fill="rgb(250,245,255)"/>
<rect x="250.05" y="857.02" width="50.87" height="7.50" fill="rgb(125,85,255)"/>
<rect x="300.67" y="857.02" width="101.48" height="7.50" fill="rgb(148,110,255)"/>
<rect x="98.20" y="864.22" width="50.87" height="7.50" fill="rgb(255,188,164)"/>
<rect x="148.82" y="864.22" width="50.87" height="7.50" fill="rgb(255,0,0)"/>
<rect x="199.43" y="864.22" width="50.87" height="7.50" fill="rgb(255,188,164)"/>
<rect x="250.05" y="864.22" width="50.87" height="7.50" fill="rgb(125,85,255)"/>
<rect x="300.67" y="864.22" width="50.87" height="7.50" fill="rgb(0,0,255)"/>
<rect x="351.28" y="864.22" width="50.87" height="7.50" fill="rgb(125,85,255)"/>
<rect x="98.20" y="871.42" width="50.87" height="7.50" fill="rgb(255,0,0)"/>
<rect x="148.82" y="871.42" width="50.87" height="7.50" fill="rgb(205,180,255)"/>
<rect x="199.43" y="871.42" width="50.87" height="7.50" fill="rgb(255,140,110)"/>
<rect x="250.05" y="871.42" width="50.87" height="7.50" fill="rgb(172,135,255)"/>
<rect x="300.67" y="871.42" width="50.87" height="7.50" fill="rgb(70,35,255)"/>
<rect x="351.28" y="871.42" width="50.87" height="7.50" fill="rgb(125,85,255)"/>
<rect x="98.20" y="878.63" width="50.87" height="7.50" fill="rgb(255,0,0)"/>
<rect x="148.82" y="878.63" width="50.87" height="7.50" fill="rgb(205,180,255)"/>
<rect x="199.43" y="878.63" width="50.87" height="7.50" fill="rgb(255,194,172)"/>
<rect x="250.05" y="878.63" width="50.87" height="7.50" fill="rgb(205,180,255)"/>
<rect x="300.67" y="878.63" width="101.48" height="7.50" fill="rgb(125,85,255)"/>
<rect x="98.20" y="885.83" width="50.87" height="7.50" fill="rgb(255,0,0)"/>
<rect x="148.82" y="885.83" width="50.87" height="7.50" fill="rgb(250,245,255)"/>
<rect x="199.43" y="885.83" width="50.87" height="7.50" fill="rgb(255,60,35)"/>
<rect x="250.05" y="885.83" width="50.87" height="7.50" fill="rgb(205,180,255)"/>
<rect x="300.67" y="885.83" width="50.87" height="7.50" fill="rgb(70,35,255)"/>
<rect x="351.28" y="885.83" width="50.87" height="7.50" fill="rgb(0,0,255)"/>
<rect x="98.20" y="893.03" width="50.87" height="7.50" fill="rgb(255,0,0)"/>
<rect x="148.82" y="893.03" width="50.87" height="7.50" fill="rgb(148,110,255)"/>
<rect x="199.43" y="893.03" width="50.87" height="7.50" fill="rgb(255,88,60)"/>
<rect x="250.05" y="893.03" width="50.87" height="7.50" fill="rgb(205,180,255)"/>
<rect x="300.67" y="893.03" width="50.87" height="7.50" fill="rgb(148,110,255)"/>
<rect x="351.28" y="893.03" width="50.87" height="7.50" fill="rgb(70,35,255)"/>
<rect x="98.20" y="900.24" width="50.87" height="7.50" fill="rgb(255,0,0)"/>
<rect x="148.82" y="900.24" width="50.87" height="7.50" fill="rgb(188,158,255)"/>
<rect x="199.43" y="900.24" width="50.87" height="7.50" fill="rgb(255,0,0)"/>
<rect x="250.05" y="900.24" width="152.10" height="7.50" fill="rgb(125,85,255)"/>
<rect x="98.20" y="907.44" width="50.87" height="7.50" fill="rgb(255,0,0)"/>
<rect x="148.82" y="907.44" width="50.87" height="7.50" fill="rgb(205,180,255)"/>
<rect x="199.43" y="907.44" width="50.87" height="7.50" fill="rgb(255,0,0)"/>
<rect x="250.05" y="907.44" width="152.10" height="7.50" fill="rgb(125,85,255)"/>
<rect x="98.20" y="914.64" width="50.87" height="7.50" fill="rgb(255,0,0)"/>
<rect x="148.82" y="914.64" width="50.87" height="7.50" fill="rgb(172,135,255)"/>
<rect x="199.43" y="914.64" width="50.87" height="7.50" fill="rgb(255,60,35)"/>
<rect x="250.05" y="914.64" width="50.87" height="7.50" fill="rgb(114,75,255)"/>
<rect x="300.67" y="914.64" width="50.87" height="7.50" fill="rgb(172,135,255)"/>
<rect x="351.28" y="914.64" width="50.87" height="7.50" fill="rgb(153,115,255)"/>
<rect x="98.20" y="921.84" width="50.87" height="7.50" fill="rgb(255,0,0)"/>
<rect x="148.82" y="921.84" width="50.87" height="7.50" fill="rgb(158,120,255)"/>
<rect x="199.43" y="921.84" width="50.87" height="7.50" fill="rgb(255,60,35)"/>
<rect x="250.05" y="921.84" width="50.87" height="7.50" fill="rgb(114,75,255)"/>
<rect x="300.67" y="921.84" width="50.87" height="7.50" fill="rgb(172,135,255)"/>
<rect x="351.28" y="921.84" width="50.87" height="7.50" fill="rgb(153,115,255)"/>
<rect x="98.20" y="929.05" width="50.87" height="7.50" fill="rgb(255,0,0)"/>
<rect x="148.82" y="929.05" width="50.87" height="7.50" fill="rgb(172,135,255)"/>
<rect x="199.43" y="929.05" width="50.87" height="7.50" fill="rgb(255,0,0)"/>
<rect x="250.05" y="929.05" width="50.87" height="7.50" fill="rgb(125,85,255)"/>
<rect x="300.67" y="929.05" width="101.48" height="7.50" fill="rgb(172,135,255)"/>
<rect x="98.20" y="936.25" width="50.87" height="7.50" fill="rgb(255,0,0)"/>
<rect x="148.82" y="936.25" width="50.87" height="7.50" fill="rgb(255,222,208)"/>
<rect x="199.43" y="936.25" width="50.87" height="7.50" fill="rgb(255,0,0)"/>
<rect x="250.05" y="936.25" width="50.87" height="7.50" fill="rgb(0,0,255)"/>
<rect x="300.67" y="936.25" width="50.87" height="7.50" fill="rgb(172,135,255)"/>
<rect x="351.28" y="936.25" width="50.87" height="7.50" fill="rgb(125,85,255)"/>
<rect x="98.20" y="943.45" width="50.87" height="7.50" fill="rgb(255,0,0)"/>
<rect x="148.82" y="943.45" width="50.87" height="7.50" fill="rgb(255,222,208)"/>
<rect x="199.43" y="943.45" width="50.87" height="7.50" fill="rgb(255,60,35)"/>
<rect x="250.05" y="943.45" width="50.87" height="7.50" fill="rgb(98,60,255)"/>
<rect x="300.67" y="943.45" width="50.87" height="7.50" fill="rgb(125,85,255)"/>
<rect x="351.28" y="943.45" width="50.87" height="7.50" fill="rgb(172,135,255)"/>
<rect x="98.20" y="950.66" width="50.87" height="7.50" fill="rgb(255,0,0)"/>
<rect x="148.82" y="950.66" width="50.87" height="7.50" fill="rgb(255,222,208)"/>
<rect x="199.43" y="950.66" width="50.87" height="7.50" fill="rgb(255,115,85)"/>
<rect x="250.05" y="950.66" width="50.87" height="7.50" fill="rgb(0,0,255)"/>
<rect x="300.67" y="950.66" width="50.87" height="7.50" fill="rgb(172,135,255)"/>
<rect x="351.28" y="950.66" width="50.87" height="7.50" fill="rgb(125,85,255)"/>
<rect x="98.20" y="957.86" width="50.87" height="7.50" fill="rgb(255,0,0)"/>
<rect x="148.82" y="957.86" width="50.87" height="7.50" fill="rgb(214,193,255)"/>
<rect x="199.43" y="957.86" width="50.87" height="7.50" fill="rgb(255,115,85)"/>
<rect x="250.05" y="957.86" width="101.48" height="7.50" fill="rgb(125,85,255)"/>
<rect x="351.28" y="957.86" width="50.87" height="7.50" fill="rgb(148,110,255)"/>
<rect x="98.20" y="965.06" width="50.87" height="7.50" fill="rgb(255,0,0)"/>
<rect x="148.82" y="965.06" width="50.87" height="7.50" fill="rgb(232,219,255)"/>
<rect x="199.43" y="965.06" width="50.87" height="7.50" fill="rgb(255,115,85)"/>
<rect x="250.05" y="965.06" width="50.87" height="7.50" fill="rgb(70,35,255)"/>
<rect x="300.67" y="965.06" width="50.87" height="7.50" fill="rgb(125,85,255)"/>
<rect x="351.28" y="965.06" width="50.87" height="7.50" fill="rgb(172,135,255)"/>
<rect x="98.20" y="972.27" width="50.87" height="7.50" fill="rgb(255,0,0)"/>
<rect x="148.82" y="972.27" width="50.87" height="7.50" fill="rgb(255,222,208)"/>
<rect x="199.43" y="972.27" width="50.87" height="7.50" fill="rgb(254,227,217)"/>
<rect x="250.05" y="972.27" width="50.87" height="7.50" fill="rgb(125,85,255)"/>
<rect x="300.67" y="972.27" width="50.87" height="7.50" fill="rgb(0,0,255)"/>
<rect x="351.28" y="972.27" width="50.87" height="7.50" fill="rgb(188,158,255)"/>
<rect x="98.20" y="979.47" width="50.87" height="7.50" fill="rgb(255,0,0)"/>
<rect x="148.82" y="979.47" width="50.87" height="7.50" fill="rgb(255,222,208)"/>
<rect x="199.43" y="979.47" width="50.87" height="7.50" fill="rgb(255,199,179)"/>
<rect x="250.05" y="979.47" width="50.87" height="7.50" fill="rgb(0,0,255)"/>
<rect x="300.67" y="979.47" width="50.87" height="7.50" fill="rgb(125,85,255)"/>
<rect x="351.28" y="979.47" width="50.87" height="7.50" fill="rgb(205,180,255)"/>
<rect x="98.20" y="986.67" width="50.87" height="7.50" fill="rgb(255,0,0)"/>
<rect x="148.82" y="986.67" width="50.87" height="7.50" fill="rgb(255,165,135)"/>
<rect x="199.43" y="986.67" width="50.87" height="7.50" fill="rgb(250,245,255)"/>
<rect x="250.05" y="986.67" width="152.10" height="7.50" fill="rgb(125,85,255)"/>
<rect x="98.20" y="993.88" width="50.87" height="7.50" fill="rgb(255,0,0)"/>
<rect x="148.82" y="993.88" width="101.48" height="7.50" fill="rgb(255,188,164)"/>
<rect x="250.05" y="993.88" width="101.48" height="7.50" fill="rgb(98,60,255)"/>
<rect x="351.28" y="993.88" width="50.87" height="7.50" fill="rgb(125,85,255)"/>
<rect x="98.20" y="1001.08" width="50.87" height="7.50" fill="rgb(255,0,0)"/>
<rect x="148.82" y="1001.08" width="50.87" height="7.50" fill="rgb(255,222,208)"/>
<rect x="199.43" y="1001.08" width="50.87" height="7.50" fill="rgb(214,193,255)"/>
<rect x="250.05" y="1001.08" width="50.87" height="7.50" fill="rgb(172,135,255)"/>
<rect x="300.67" y="1001.08" width="50.87" height="7.50" fill="rgb(125,85,255)"/>
<rect x="351.28" y="1001.08" width="50.87" height="7.50" fill="rgb(98,60,255)"/>
<rect x="98.20" y="1008.28" width="50.87" height="7.50" fill="rgb(255,0,0)"/>
<rect x="148.82" y="1008.28" width="50.87" height="7.50" fill="rgb(250,245,255)"/>
<rect x="199.43" y="1008.28" width="50.87" height="7.50" fill="rgb(255,222,208)"/>
<rect x="250.05" y="1008.28" width="152.10" height="7.50" fill="rgb(148,110,255)"/>
<rect x="98.20" y="1015.49" width="50.87" height="7.50" fill="rgb(255,0,0)"/>
<rect x="148.82" y="1015.49" width="50.87" height="7.50" fill="rgb(250,245,255)"/>
<rect x="199.43" y="1015.49" width="50.87" height="7.50" fill="rgb(254,229,222)"/>
<rect x="250.05" y="1015.49" width="101.48" height="7.50" fill="rgb(148,110,255)"/>
<rect x="351.28" y="1015.49" width="50.87" height="7.50" fill="rgb(172,135,255)"/>
<rect x="98.20" y="1022.69" width="50.87" height="7.50" fill="rgb(255,0,0)"/>
<rect x="148.82" y="1022.69" width="50.87" height="7.50" fill="rgb(205,180,255)"/>
<rect x="199.43" y="1022.69" width="152.10" height="7.50" fill="rgb(172,135,255)"/>
<rect x="351.28" y="1022.69" width="50.87" height="7.50" fill="rgb(188,158,255)"/>
<rect x="98.20" y="1029.89" width="50.87" height="7.50" fill="rgb(255,0,0)"/>
<rect x="148.82" y="1029.89" width="50.87" height="7.50" fill="rgb(172,135,255)"/>
<rect x="199.43" y="1029.89" width="50.87" height="7.50" fill="rgb(255,222,208)"/>
<rect x="250.05" y="1029.89" width="50.87" height="7.50" fill="rgb(148,110,255)"/>
<rect x="300.67" y="1029.89" width="50.87" height="7.50" fill="rgb(172,135,255)"/>
<rect x="351.28" y="1029.89" width="50.87" height="7.50" fill="rgb(205,180,255)"/>
<rect x="98.20" y="1037.09" width="50.87" height="7.50" fill="rgb(255,0,0)"/>
<rect x="148.82" y="1037.09" width="50.87" height="7.50" fill="rgb(188,158,255)"/>
<rect x="199.43" y="1037.09" width="50.87" height="7.50" fill="rgb(253,231,227)"/>
<rect x="250.05" y="1037.09" width="101.48" height="7.50" fill="rgb(172,135,255)"/>
<rect x="351.28" y="1037.09" width="50.87" height="7.50" fill="rgb(205,180,255)"/>
<rect x="98.20" y="1044.30" width="50.87" height="7.50" fill="rgb(255,0,0)"/>
<rect x="148.82" y="1044.30" width="50.87" height="7.50" fill="rgb(172,135,255)"/>
<rect x="199.43" y="1044.30" width="50.87" height="7.50" fill="rgb(255,194,172)"/>
<rect x="250.05" y="1044.30" width="50.87" height="7.50" fill="rgb(125,85,255)"/>
<rect x="300.67" y="1044.30" width="50.87" height="7.50" fill="rgb(172,135,255)"/>
<rect x="351.28" y="1044.30" width="50.87" height="7.50" fill="rgb(205,180,255)"/>
<rect x="98.20" y="1051.50" width="50.87" height="7.50" fill="rgb(255,0,0)"/>
<rect x="148.82" y="1051.50" width="50.87" height="7.50" fill="rgb(172,135,255)"/>
<rect x="199.43" y="1051.50" width="50.87" height="7.50" fill="rgb(255,165,135)"/>
<rect x="250.05" y="1051.50" width="50.87" height="7.50" fill="rgb(114,75,255)"/>
<rect x="300.67" y="1051.50" width="50.87" height="7.50" fill="rgb(158,120,255)"/>
<rect x="351.28" y="1051.50" width="50.87" height="7.50" fill="rgb(205,180,255)"/>
<rect x="98.20" y="1058.70" width="101.48" height="7.50" fill="rgb(255,0,0)"/>
<rect x="199.43" y="1058.70" width="50.87" height="7.50" fill="rgb(205,180,255)"/>
<rect x="250.05" y="1058.70" width="50.87" height="7.50" fill="rgb(0,0,255)"/>
<rect x="300.67" y="1058.70" width="50.87" height="7.50" fill="rgb(163,125,255)"/>
<rect x="351.28" y="1058.70" width="50.87" height="7.50" fill="rgb(192,162,255)"/>
<rect x="98.20" y="1065.91" width="101.48" height="7.50" fill="rgb(255,0,0)"/>
<rect x="199.43" y="1065.91" width="50.87" height="7.50" fill="rgb(255,222,208)"/>
<rect x="250.05" y="1065.91" width="50.87" height="7.50" fill="rgb(172,135,255)"/>
<rect x="300.67" y="1065.91" width="50.87" height="7.50" fill="rgb(70,35,255)"/>
<rect x="351.28" y="1065.91" width="50.87" height="7.50" fill="rgb(35,18,255)"/>
<rect x="98.20" y="1073.11" width="50.87" height="7.50" fill="rgb(255,0,0)"/>
<rect x="148.82" y="1073.11" width="50.87" height="7.50" fill="rgb(255,30,18)"/>
<rect x="199.43" y="1073.11" width="50.87" height="7.50" fill="rgb(255,222,208)"/>
<rect x="250.05" y="1073.11" width="50.87" height="7.50" fill="rgb(98,60,255)"/>
<rect x="300.67" y="1073.11" width="101.48" height="7.50" fill="rgb(125,85,255)"/>
<rect x="98.20" y="1080.31" width="101.48" height="7.50" fill="rgb(255,0,0)"/>
<rect x="199.43" y="1080.31" width="50.87" height="7.50" fill="rgb(255,222,208)"/>
<rect x="250.05" y="1080.31" width="50.87" height="7.50" fill="rgb(98,60,255)"/>
<rect x="300.67" y="1080.31" width="50.87" height="7.50" fill="rgb(125,85,255)"/>
<rect x="351.28" y="1080.31" width="50.87" height="7.50" fill="rgb(98,60,255)"/>
<rect x="98.20" y="1087.52" width="50.87" height="7.50" fill="rgb(255,0,0)"/>
<rect x="148.82" y="1087.52" width="50.87" height="7.50" fill="rgb(255,36,21)"/>
<rect x="199.43" y="1087.52" width="50.87" height="7.50" fill="rgb(255,222,208)"/>
<rect x="250.05" y="1087.52" width="101.48" height="7.50" fill="rgb(98,60,255)"/>
<rect x="351.28" y="1087.52" width="50.87" height="7.50" fill="rgb(125,85,255)"/>
<rect x="98.20" y="1094.72" width="101.48" height="7.50" fill="rgb(255,0,0)"/>
<rect x="199.43" y="1094.72" width="50.87" height="7.50" fill="rgb(255,222,208)"/>
<rect x="250.05" y="1094.72" width="50.87" height="7.50" fill="rgb(98,60,255)"/>
<rect x="300.67" y="1094.72" width="50.87" height="7.50" fill="rgb(125,85,255)"/>
<rect x="351.28" y="1094.72" width="50.87" height="7.50" fill="rgb(98,60,255)"/>
<rect x="98.20" y="1101.92" width="50.87" height="7.50" fill="rgb(255,0,0)"/>
<rect x="148.82" y="1101.92" width="50.87" height="7.50" fill="rgb(255,30,18)"/>
<rect x="199.43" y="1101.92" width="50.87" height="7.50" fill="rgb(255,188,164)"/>
<rect x="250.05" y="1101.92" width="50.87" height="7.50" fill="rgb(35,18,255)"/>
<rect x="300.67" y="1101.92" width="101.48" height="7.50" fill="rgb(125,85,255)"/>
<rect x="98.20" y="1109.13" width="101.48" height="7.50" fill="rgb(255,0,0)"/>
<rect x="199.43" y="1109.13" width="50.87" height="7.50" fill="rgb(192,162,255)"/>
<rect x="250.05" y="1109.13" width="50.87" height="7.50" fill="rgb(98,60,255)"/>
<rect x="300.67" y="1109.13" width="101.48" height="7.50" fill="rgb(148,110,255)"/>
<rect x="98.20" y="1116.33" width="50.87" height="7.50" fill="rgb(255,0,0)"/>
<rect x="148.82" y="1116.33" width="50.87" height="7.50" fill="rgb(255,82,55)"/>
<rect x="199.43" y="1116.33" width="50.87" height="7.50" fill="rgb(205,180,255)"/>
<rect x="250.05" y="1116.33" width="50.87" height="7.50" fill="rgb(148,110,255)"/>
<rect x="300.67" y="1116.33" width="101.48" height="7.50" fill="rgb(125,85,255)"/>
<rect x="98.20" y="1123.53" width="50.87" height="7.50" fill="rgb(255,0,0)"/>
<rect x="148.82" y="1123.53" width="50.87" height="7.50" fill="rgb(255,60,35)"/>
<rect x="199.43" y="1123.53" width="50.87" height="7.50" fill="rgb(228,212,255)"/>
<rect x="250.05" y="1123.53" width="50.87" height="7.50" fill="rgb(125,85,255)"/>
<rect x="300.67" y="1123.53" width="50.87" height="7.50" fill="rgb(148,110,255)"/>
<rect x="351.28" y="1123.53" width="50.87" height="7.50" fill="rgb(125,85,255)"/>
<rect x="98.20" y="1130.73" width="50.87" height="7.50" fill="rgb(255,0,0)"/>
<rect x="148.82" y="1130.73" width="50.87" height="7.50" fill="rgb(255,60,35)"/>
<rect x="199.43" y="1130.73" width="50.87" height="7.50" fill="rgb(228,212,255)"/>
<rect x="250.05" y="1130.73" width="101.48" height="7.50" fill="rgb(125,85,255)"/>
<rect x="351.28" y="1130.73" width="50.87" height="7.50" fill="rgb(98,60,255)"/>
<rect x="98.20" y="1137.94" width="50.87" height="7.50" fill="rgb(255,0,0)"/>
<rect x="148.82" y="1137.94" width="50.87" height="7.50" fill="rgb(255,24,14)"/>
<rect x="199.43" y="1137.94" width="50.87" height="7.50" fill="rgb(214,193,255)"/>
<rect x="250.05" y="1137.94" width="101.48" height="7.50" fill="rgb(125,85,255)"/>
<rect x="351.28" y="1137.94" width="50.87" height="7.50" fill="rgb(148,110,255)"/>
<rect x="98.20" y="1145.14" width="101.48" height="7.50" fill="rgb(255,0,0)"/>
<rect x="199.43" y="1145.14" width="50.87" height="7.50" fill="rgb(205,180,255)"/>
<rect x="250.05" y="1145.14" width="50.87" height="7.50" fill="rgb(148,110,255)"/>
<rect x="300.67" y="1145.14" width="101.48" height="7.50" fill="rgb(125,85,255)"/>
<rect x="98.20" y="1152.34" width="101.48" height="7.50" fill="rgb(255,0,0)"/>
<rect x="199.43" y="1152.34" width="50.87" height="7.50" fill="rgb(241,232,255)"/>
<rect x="250.05" y="1152.34" width="50.87" height="7.50" fill="rgb(125,85,255)"/>
<rect x="300.67" y="1152.34" width="50.87" height="7.50" fill="rgb(148,110,255)"/>
<rect x="351.28" y="1152.34" width="50.87" height="7.50" fill="rgb(125,85,255)"/>
<rect x="98.20" y="1159.55" width="101.48" height="7.50" fill="rgb(255,0,0)"/>
<rect x="199.43" y="1159.55" width="50.87" height="7.50" fill="rgb(228,212,255)"/>
<rect x="250.05" y="1159.55" width="50.87" height="7.50" fill="rgb(35,18,255)"/>
<rect x="300.67" y="1159.55" width="50.87" height="7.50" fill="rgb(172,135,255)"/>
<rect x="351.28" y="1159.55" width="50.87" height="7.50" fill="rgb(148,110,255)"/>
<rect x="98.20" y="1166.75" width="101.48" height="7.50" fill="rgb(255,0,0)"/>
<rect x="199.43" y="1166.75" width="50.87" height="7.50" fill="rgb(205,180,255)"/>
<rect x="250.05" y="1166.75" width="50.87" height="7.50" fill="rgb(148,110,255)"/>
<rect x="300.67" y="1166.75" width="101.48" height="7.50" fill="rgb(125,85,255)"/>
<rect x="98.20" y="1173.95" width="101.48" height="7.50" fill="rgb(255,0,0)"/>
<rect x="199.43" y="1173.95" width="50.87" height="7.50" fill="rgb(228,212,255)"/>
<rect x="250.05" y="1173.95" width="50.87" height="7.50" fill="rgb(148,110,255)"/>
<rect x="300.67" y="1173.95" width="101.48" height="7.50" fill="rgb(125,85,255)"/>
<rect x="98.20" y="1181.16" width="101.48" height="7.50" fill="rgb(255,0,0)"/>
<rect x="199.43" y="1181.16" width="50.87" height="7.50" fill="rgb(205,180,255)"/>
<rect x="250.05" y="1181.16" width="101.48" height="7.50" fill="rgb(125,85,255)"/>
<rect x="351.28" y="1181.16" width="50.87" height="7.50" fill="rgb(163,125,255)"/>
<rect x="98.20" y="1188.36" width="101.48" height="7.50" fill="rgb(255,0,0)"/>
<rect x="199.43" y="1188.36" width="50.87" height="7.50" fill="rgb(172,135,255)"/>
<rect x="250.05" y="1188.36" width="50.87" height="7.50" fill="rgb(153,115,255)"/>
<rect x="300.67" y="1188.36" width="50.87" height="7.50" fill="rgb(192,162,255)"/>
<rect x="351.28" y="1188.36" width="50.87" height="7.50" fill="rgb(163,125,255)"/>
<rect x="98.20" y="1195.56" width="50.87" height="7.50" fill="rgb(255,0,0)"/>
<rect x="148.82" y="1195.56" width="50.87" height="7.50" fill="rgb(255,115,85)"/>
<rect x="199.43" y="1195.56" width="50.87" height="7.50" fill="rgb(172,135,255)"/>
<rect x="250.05" y="1195.56" width="50.87" height="7.50" fill="rgb(205,180,255)"/>
<rect x="300.67" y="1195.56" width="50.87" height="7.50" fill="rgb(188,158,255)"/>
<rect x="351.28" y="1195.56" width="50.87" height="7.50" fill="rgb(0,0,255)"/>
<rect x="98.20" y="1202.77" width="101.48" height="7.50" fill="rgb(255,0,0)"/>
<rect x="199.43" y="1202.77" width="50.87" height="7.50" fill="rgb(172,135,255)"/>
<rect x="250.05" y="1202.77" width="50.87" height="7.50" fill="rgb(228,212,255)"/>
<rect x="300.67" y="1202.77" width="50.87" height="7.50" fill="rgb(125,85,255)"/>
<rect x="351.28" y="1202.77" width="50.87" height="7.50" fill="rgb(98,60,255)"/>
<rect x="98.20" y="1209.97" width="50.87" height="7.50" fill="rgb(255,0,0)"/>
<rect x="148.82" y="1209.97" width="50.87" height="7.50" fill="rgb(255,60,35)"/>
<rect x="199.43" y="1209.97" width="50.87" height="7.50" fill="rgb(255,165,135)"/>
<rect x="250.05" y="1209.97" width="50.87" height="7.50" fill="rgb(0,0,255)"/>
<rect x="300.67" y="1209.97" width="50.87" height="7.50" fill="rgb(228,212,255)"/>
<rect x="351.28" y="1209.97" width="50.87" height="7.50" fill="rgb(70,35,255)"/>
<rect x="98.20" y="1217.17" width="50.87" height="7.50" fill="rgb(255,0,0)"/>
<rect x="148.82" y="1217.17" width="50.87" height="7.50" fill="rgb(255,140,110)"/>
<rect x="199.43" y="1217.17" width="50.87" height="7.50" fill="rgb(255,165,135)"/>
<rect x="250.05" y="1217.17" width="50.87" height="7.50" fill="rgb(172,135,255)"/>
<rect x="300.67" y="1217.17" width="50.87" height="7.50" fill="rgb(188,158,255)"/>
<rect x="351.28" y="1217.17" width="50.87" height="7.50" fill="rgb(0,0,255)"/>
<rect x="98.20" y="1224.38" width="50.87" height="7.50" fill="rgb(255,0,0)"/>
<rect x="148.82" y="1224.38" width="50.87" height="7.50" fill="rgb(255,60,35)"/>
<rect x="199.43" y="1224.38" width="50.87" height="7.50" fill="rgb(228,212,255)"/>
<rect x="250.05" y="1224.38" width="50.87" height="7.50" fill="rgb(125,85,255)"/>
<rect x="300.67" y="1224.38" width="50.87" height="7.50" fill="rgb(241,232,255)"/>
<rect x="351.28" y="1224.38" width="50.87" height="7.50" fill="rgb(0,0,255)"/>
<rect x="98.20" y="1231.58" width="101.48" height="7.50" fill="rgb(255,0,0)"/>
<rect x="199.43" y="1231.58" width="50.87" height="7.50" fill="rgb(250,245,255)"/>
<rect x="250.05" y="1231.58" width="50.87" height="7.50" fill="rgb(125,85,255)"/>
<rect x="300.67" y="1231.58" width="50.87" height="7.50" fill="rgb(241,232,255)"/>
<rect x="351.28" y="1231.58" width="50.87" height="7.50" fill="rgb(0,0,255)"/>
<rect x="98.20" y="1238.78" width="50.87" height="7.50" fill="rgb(255,82,55)"/>
<rect x="148.82" y="1238.78" width="50.87" height="7.50" fill="rgb(255,0,0)"/>
<rect x="199.43" y="1238.78" width="50.87" height="7.50" fill="rgb(255,140,110)"/>
<rect x="250.05" y="1238.78" width="50.87" height="7.50" fill="rgb(125,85,255)"/>
<rect x="300.67" y="1238.78" width="50.87" height="7.50" fill="rgb(241,232,255)"/>
<rect x="351.28" y="1238.78" width="50.87" height="7.50" fill="rgb(0,0,255)"/>
<rect x="98.20" y="1245.98" width="50.87" height="7.50" fill="rgb(255,60,35)"/>
<rect x="148.82" y="1245.98" width="50.87" height="7.50" fill="rgb(255,0,0)"/>
<rect x="199.43" y="1245.98" width="50.87" height="7.50" fill="rgb(255,140,110)"/>
<rect x="250.05" y="1245.98" width="50.87" height="7.50" fill="rgb(125,85,255)"/>
<rect x="300.67" y="1245.98" width="50.87" height="7.50" fill="rgb(0,0,255)"/>
<rect x="351.28" y="1245.98" width="50.87" height="7.50" fill="rgb(148,110,255)"/>
<rect x="98.20" y="1253.19" width="50.87" height="7.50" fill="rgb(255,0,0)"/>
<rect x="148.82" y="1253.19" width="50.87" height="7.50" fill="rgb(255,115,85)"/>
<rect x="199.43" y="1253.19" width="50.87" height="7.50" fill="rgb(255,140,110)"/>
<rect x="250.05" y="1253.19" width="50.87" height="7.50" fill="rgb(172,135,255)"/>
<rect x="300.67" y="1253.19" width="50.87" height="7.50" fill="rgb(0,0,255)"/>
<rect x="351.28" y="1253.19" width="50.87" height="7.50" fill="rgb(98,60,255)"/>
<rect x="98.20" y="1260.39" width="50.87" height="7.50" fill="rgb(255,0,0)"/>
<rect x="148.82" y="1260.39" width="50.87" height="7.50" fill="rgb(255,60,35)"/>
<rect x="199.43" y="1260.39" width="50.87" height="7.50" fill="rgb(255,115,85)"/>
<rect x="250.05" y="1260.39" width="50.87" height="7.50" fill="rgb(205,180,255)"/>
<rect x="300.67" y="1260.39" width="50.87" height="7.50" fill="rgb(70,35,255)"/>
<rect x="351.28" y="1260.39" width="50.87" height="7.50" fill="rgb(0,0,255)"/>
<rect x="98.20" y="1267.59" width="101.48" height="7.50" fill="rgb(255,0,0)"/>
<rect x="199.43" y="1267.59" width="50.87" height="7.50" fill="rgb(255,165,135)"/>
<rect x="250.05" y="1267.59" width="50.87" height="7.50" fill="rgb(188,158,255)"/>
<rect x="300.67" y="1267.59" width="50.87" height="7.50" fill="rgb(172,135,255)"/>
<rect x="351.28" y="1267.59" width="50.87" height="7.50" fill="rgb(0,0,255)"/>
<rect x="98.20" y="1274.80" width="50.87" height="7.50" fill="rgb(255,140,110)"/>
<rect x="148.82" y="1274.80" width="50.87" height="7.50" fill="rgb(255,0,0)"/>
<rect x="199.43" y="1274.80" width="50.87" height="7.50" fill="rgb(255,88,60)"/>
<rect x="250.05" y="1274.80" width="50.87" height="7.50" fill="rgb(188,158,255)"/>
<rect x="300.67" y="1274.80" width="50.87" height="7.50" fill="rgb(35,18,255)"/>
<rect x="351.28" y="1274.80" width="50.87" height="7.50" fill="rgb(0,0,255)"/>
</g>
<g font-size="8" fill="#000" text-rendering="geometricPrecision">
<text transform="translate(404.4 128.35) rotate(0.03)">Drd2</text>
<text transform="translate(404.4 135.55) rotate(0.03)">7SK</text>
<text transform="translate(404.4 142.76) rotate(0.03)">Pde1c</text>
<text transform="translate(404.4 149.96) rotate(0.03)">Akr1c18</text>
<text transform="translate(404.4 157.16) rotate(0.03)">Gm5605</text>
<text transform="translate(404.4 164.37) rotate(0.03)">Cyp1a2</text>
<text transform="translate(404.4 171.57) rotate(0.03)">C1rb</text>
<text transform="translate(404.4 178.77) rotate(0.03)">Cyp1a1</text>
<text transform="translate(404.4 185.98) rotate(0.03)">Calb2</text>
<text transform="translate(404.4 193.18) rotate(0.03)">Il4i1</text>
<text transform="translate(404.4 200.38) rotate(0.03)">Zfp969</text>
<text transform="translate(404.4 207.59) rotate(0.03)">Gm37342</text>
<text transform="translate(404.4 214.79) rotate(0.03)">Gck</text>
<text transform="translate(404.4 221.99) rotate(0.03)">Gm5751</text>
<text transform="translate(404.4 229.20) rotate(0.03)">Apom</text>
<text transform="translate(404.4 236.40) rotate(0.03)">AA413626</text>
<text transform="translate(404.4 243.60) rotate(0.03)">Gm3734</text>
<text transform="translate(404.4 250.80) rotate(0.03)">Mir1929</text>
<text transform="translate(404.4 258.01) rotate(0.03)">Metazoa_SRP</text>
<text transform="translate(404.4 265.21) rotate(0.03)">Mup19</text>
<text transform="translate(404.4 272.41) rotate(0.03)">Inhbb</text>
<text transform="translate(404.4 279.62) rotate(0.03)">Gm45853</text>
<text transform="translate(404.4 286.82) rotate(0.03)">Fgg</text>
<text transform="translate(404.4 294.02) rotate(0.03)">Itih4</text>
<text transform="translate(404.4 301.23) rotate(0.03)">Itih3</text>
<text transform="translate(404.4 308.43) rotate(0.03)">Gm6087</text>
<text transform="translate(404.4 315.63) rotate(0.03)">Serpina3m</text>
<text transform="translate(404.4 322.84) rotate(0.03)">Hpx</text>
<text transform="translate(404.4 330.04) rotate(0.03)">Lrg1</text>
<text transform="translate(404.4 337.24) rotate(0.03)">Orm2</text>
<text transform="translate(404.4 344.44) rotate(0.03)">Cbfa2t3</text>
<text transform="translate(404.4 351.65) rotate(0.03)">Apcs</text>
<text transform="translate(404.4 358.85) rotate(0.03)">Pik3c2b</text>
<text transform="translate(404.4 366.05) rotate(0.03)">Fgl1</text>
<text transform="translate(404.4 373.26) rotate(0.03)">Orm1</text>
<text transform="translate(404.4 380.46) rotate(0.03)">Saa1</text>
<text transform="translate(404.4 387.66) rotate(0.03)">Saa2</text>
<text transform="translate(404.4 394.87) rotate(0.03)">Moxd1</text>
<text transform="translate(404.4 402.07) rotate(0.03)">Gm6749</text>
<text transform="translate(404.4 409.27) rotate(0.03)">Ntrk3</text>
<text transform="translate(404.4 416.48) rotate(0.03)">Pax5</text>
<text transform="translate(404.4 423.68) rotate(0.03)">Ar</text>
<text transform="translate(404.4 430.88) rotate(0.03)">Lrrc4</text>
<text transform="translate(404.4 438.09) rotate(0.03)">Foxl2</text>
<text transform="translate(404.4 445.29) rotate(0.03)">Erg</text>
<text transform="translate(404.4 452.49) rotate(0.03)">Bcl11a</text>
<text transform="translate(404.4 459.69) rotate(0.03)">Mug-ps1</text>
<text transform="translate(404.4 466.90) rotate(0.03)">G6pc</text>
<text transform="translate(404.4 474.10) rotate(0.03)">Igfbp1</text>
<text transform="translate(404.4 481.30) rotate(0.03)">Cfh</text>
<text transform="translate(404.4 488.51) rotate(0.03)">Itga8</text>
<text transform="translate(404.4 495.71) rotate(0.03)">Cmah</text>
<text transform="translate(404.4 502.91) rotate(0.03)">Klhl30</text>
<text transform="translate(404.4 510.12) rotate(0.03)">Ephx1</text>
<text transform="translate(404.4 517.32) rotate(0.03)">Olfr110</text>
<text transform="translate(404.4 524.52) rotate(0.03)">Egr3</text>
<text transform="translate(404.4 531.73) rotate(0.03)">Sema4g</text>
<text transform="translate(404.4 538.93) rotate(0.03)">Gm26714</text>
<text transform="translate(404.4 546.13) rotate(0.03)">Zbtb16</text>
<text transform="translate(404.4 553.33) rotate(0.03)">Gm44861</text>
<text transform="translate(404.4 560.54) rotate(0.03)">Gm20619</text>
<text transform="translate(404.4 567.74) rotate(0.03)">Gm14296</text>
<text transform="translate(404.4 574.94) rotate(0.03)">Klhdc8a</text>
<text transform="translate(404.4 582.15) rotate(0.03)">Fabp6</text>
<text transform="translate(404.4 589.35) rotate(0.03)">Gm43088</text>
<text transform="translate(404.4 596.55) rotate(0.03)">Prr18</text>
<text transform="translate(404.4 603.76) rotate(0.03)">Wfdc17</text>
<text transform="translate(404.4 610.96) rotate(0.03)">Rpsa-ps5</text>
<text transform="translate(404.4 618.16) rotate(0.03)">Gm52969</text>
<text transform="translate(404.4 625.37) rotate(0.03)">Stfa3</text>
<text transform="translate(404.4 632.57) rotate(0.03)">Srp54b</text>
<text transform="translate(404.4 639.77) rotate(0.03)">Mup16</text>
<text transform="translate(404.4 646.98) rotate(0.03)">Selenok-ps4</text>
<text transform="translate(404.4 654.18) rotate(0.03)">Myh13</text>
<text transform="translate(404.4 661.38) rotate(0.03)">Fhl1</text>
<text transform="translate(404.4 668.58) rotate(0.03)">Cyp2a5</text>
<text transform="translate(404.4 675.79) rotate(0.03)">Fmod</text>
<text transform="translate(404.4 682.99) rotate(0.03)">Angptl7</text>
<text transform="translate(404.4 690.19) rotate(0.03)">Acot3</text>
<text transform="translate(404.4 697.40) rotate(0.03)">Ampd1</text>
<text transform="translate(404.4 704.60) rotate(0.03)">S100a8</text>
<text transform="translate(404.4 711.80) rotate(0.03)">Saa3</text>
<text transform="translate(404.4 719.01) rotate(0.03)">Il1b</text>
<text transform="translate(404.4 726.21) rotate(0.03)">Il12b</text>
<text transform="translate(404.4 733.41) rotate(0.03)">Marco</text>
<text transform="translate(404.4 740.62) rotate(0.03)">5830448L01Rik</text>
<text transform="translate(404.4 747.82) rotate(0.03)">B230303A05Rik</text>
<text transform="translate(404.4 755.02) rotate(0.03)">Slpi</text>
<text transform="translate(404.4 762.22) rotate(0.03)">Adcy4</text>
<text transform="translate(404.4 769.43) rotate(0.03)">Slfn1</text>
<text transform="translate(404.4 776.63) rotate(0.03)">Ltb4r1</text>
<text transform="translate(404.4 783.83) rotate(0.03)">Serpinb2</text>
<text transform="translate(404.4 791.04) rotate(0.03)">Gm2004</text>
<text transform="translate(404.4 798.24) rotate(0.03)">Ccl5</text>
<text transform="translate(404.4 805.44) rotate(0.03)">Bcl2a1a</text>
<text transform="translate(404.4 812.65) rotate(0.03)">Mir3473a</text>
<text transform="translate(404.4 819.85) rotate(0.03)">Gm5469</text>
<text transform="translate(404.4 827.05) rotate(0.03)">Myh4</text>
<text transform="translate(404.4 834.26) rotate(0.03)">Gm48114</text>
<text transform="translate(404.4 841.46) rotate(0.03)">Gm48789</text>
<text transform="translate(404.4 848.66) rotate(0.03)">Upp1</text>
<text transform="translate(404.4 855.87) rotate(0.03)">Klhl31</text>
<text transform="translate(404.4 863.07) rotate(0.03)">Myh8</text>
<text transform="translate(404.4 870.27) rotate(0.03)">Gm13123</text>
<text transform="translate(404.4 877.47) rotate(0.03)">Clec3b</text>
<text transform="translate(404.4 884.68) rotate(0.03)">Rps2-ps4</text>
<text transform="translate(404.4 891.88) rotate(0.03)">Mylk2</text>
<text transform="translate(404.4 899.08) rotate(0.03)">Gm7582</text>
<text transform="translate(404.4 906.29) rotate(0.03)">Mylk4</text>
<text transform="translate(404.4 913.49) rotate(0.03)">Smtnl1</text>
<text transform="translate(404.4 920.69) rotate(0.03)">Col1a2</text>
<text transform="translate(404.4 927.90) rotate(0.03)">Col1a1</text>
<text transform="translate(404.4 935.10) rotate(0.03)">Tnmd</text>
<text transform="translate(404.4 942.30) rotate(0.03)">Gm8337</text>
<text transform="translate(404.4 949.51) rotate(0.03)">Mylf-ps</text>
<text transform="translate(404.4 956.71) rotate(0.03)">Aldoart1</text>
<text transform="translate(404.4 963.91) rotate(0.03)">Mybpc1</text>
<text transform="translate(404.4 971.11) rotate(0.03)">Crip1</text>
<text transform="translate(404.4 978.32) rotate(0.03)">Kcnc4</text>
<text transform="translate(404.4 985.52) rotate(0.03)">Ryr1</text>
<text transform="translate(404.4 992.72) rotate(0.03)">Actn3</text>
<text transform="translate(404.4 999.93) rotate(0.03)">Myh2</text>
<text transform="translate(404.4 1007.13) rotate(0.03)">Rpl10a-ps2</text>
<text transform="translate(404.4 1014.33) rotate(0.03)">Myh1</text>
<text transform="translate(404.4 1021.54) rotate(0.03)">C1qtnf7</text>
<text transform="translate(404.4 1028.74) rotate(0.03)">Mup18</text>
<text transform="translate(404.4 1035.94) rotate(0.03)">Thbs4</text>
<text transform="translate(404.4 1043.15) rotate(0.03)">Comp</text>
<text transform="translate(404.4 1050.35) rotate(0.03)">Col3a1</text>
<text transform="translate(404.4 1057.55) rotate(0.03)">Col5a2</text>
<text transform="translate(404.4 1064.76) rotate(0.03)">Cyp2a4</text>
<text transform="translate(404.4 1071.96) rotate(0.03)">Klhl41</text>
<text transform="translate(404.4 1079.16) rotate(0.03)">Acta1</text>
<text transform="translate(404.4 1086.36) rotate(0.03)">Tpm2</text>
<text transform="translate(404.4 1093.57) rotate(0.03)">Mylpf</text>
<text transform="translate(404.4 1100.77) rotate(0.03)">Atp2a1</text>
<text transform="translate(404.4 1107.97) rotate(0.03)">Xirp2</text>
<text transform="translate(404.4 1115.18) rotate(0.03)">Tnnt2</text>
<text transform="translate(404.4 1122.38) rotate(0.03)">Myl1</text>
<text transform="translate(404.4 1129.58) rotate(0.03)">Pvalb</text>
<text transform="translate(404.4 1136.79) rotate(0.03)">Pygm</text>
<text transform="translate(404.4 1143.99) rotate(0.03)">Tnnt3</text>
<text transform="translate(404.4 1151.19) rotate(0.03)">Neb</text>
<text transform="translate(404.4 1158.40) rotate(0.03)">H19</text>
<text transform="translate(404.4 1165.60) rotate(0.03)">Gm2058</text>
<text transform="translate(404.4 1172.80) rotate(0.03)">Cacna1s</text>
<text transform="translate(404.4 1180.00) rotate(0.03)">Mybpc2</text>
<text transform="translate(404.4 1187.21) rotate(0.03)">Ckm</text>
<text transform="translate(404.4 1194.41) rotate(0.03)">Gm9431</text>
<text transform="translate(404.4 1201.61) rotate(0.03)">Slc6a19</text>
<text transform="translate(404.4 1208.82) rotate(0.03)">Gm15564</text>
<text transform="translate(404.4 1216.02) rotate(0.03)">Nrap</text>
<text transform="translate(404.4 1223.22) rotate(0.03)">Il1f9</text>
<text transform="translate(404.4 1230.43) rotate(0.03)">Gm31583</text>
<text transform="translate(404.4 1237.63) rotate(0.03)">Csta3</text>
<text transform="translate(404.4 1244.83) rotate(0.03)">Stfa1</text>
<text transform="translate(404.4 1252.04) rotate(0.03)">Slamf6</text>
<text transform="translate(404.4 1259.24) rotate(0.03)">Gm42690</text>
<text transform="translate(404.4 1266.44) rotate(0.03)">Obscn</text>
<text transform="translate(404.4 1273.65) rotate(0.03)">Il1a</text>
<text transform="translate(404.4 1280.85) rotate(0.03)">Gm10120</text>
</g>
<g font-size="8" fill="#000">
<text transform="translate(126.5 1285.3) rotate(-90)" text-anchor="end">T-3</text>
<text transform="translate(177.1 1285.3) rotate(-90)" text-anchor="end">T-2</text>
<text transform="translate(227.7 1285.3) rotate(-90)" text-anchor="end">T-1</text>
<text transform="translate(278.3 1285.3) rotate(-90)" text-anchor="end">C-2</text>
<text transform="translate(328.9 1285.3) rotate(-90)" text-anchor="end">C-3</text>
<text transform="translate(379.5 1285.3) rotate(-90)" text-anchor="end">C-1</text>
</g>
<path d="M97.6 125.9H83.2V133.1H97.6M97.6 140.3H84.5V147.5H97.6M84.5 143.9H76.2V154.7H97.6M83.2 129.5H69.5V149.3H76.2M97.6 169.1H94.5V176.3H97.6M97.6 161.9H90.7V172.7H94.5M90.7 167.3H75.2V183.5H97.6M69.5 139.4H52.6V175.4H75.2M97.6 197.9H88.2V205.1H97.6M97.6 190.7H84.0V201.5H88.2M97.6 212.3H87.4V219.5H97.6M84.0 196.1H76.5V215.9H87.4M97.6 226.7H77.9V233.9H97.6M97.6 262.8H87.4V270.0H97.6M97.6 255.6H83.2V266.4H87.4M97.6 248.4H80.7V261.0H83.2M97.6 241.2H78.5V254.7H80.7M77.9 230.3H69.0V247.9H78.5M69.0 239.1H68.2V277.2H97.6M76.5 206.0H63.2V258.1H68.2M97.6 284.4H93.5V291.6H97.6M97.6 298.8H91.5V306.0H97.6M93.5 288.0H90.2V302.4H91.5M97.6 313.2H92.0V320.4H97.6M90.2 295.2H85.7V316.8H92.0M85.7 306.0H84.5V327.6H97.6M97.6 342.0H90.7V349.2H97.6M97.6 334.8H87.4V345.6H90.7M97.6 356.4H89.9V363.6H97.6M87.4 340.2H82.7V360.0H89.9M84.5 316.8H81.5V350.1H82.7M97.6 378.0H94.5V385.2H97.6M97.6 370.8H89.9V381.6H94.5M89.9 376.2H86.5V392.4H97.6M81.5 333.4H79.5V384.3H86.5M97.6 399.6H94.0V406.8H97.6M97.6 414.0H94.8V421.2H97.6M94.0 403.2H92.5V417.6H94.8M97.6 428.4H95.0V435.6H97.6M95.0 432.0H93.0V442.8H97.6M92.5 410.4H90.5V437.4H93.0M90.5 423.9H86.5V450.0H97.6M79.5 358.9H73.2V437.0H86.5M97.6 457.2H81.5V464.4H97.6M97.6 471.7H84.9V478.9H97.6M81.5 460.8H79.5V475.3H84.9M73.2 397.9H69.5V468.0H79.5M63.2 232.1H57.9V433.0H69.5M52.6 157.4H38.4V332.5H57.9M97.6 493.3H90.2V500.5H97.6M97.6 522.1H92.0V529.3H97.6M97.6 514.9H90.7V525.7H92.0M97.6 507.7H89.0V520.3H90.7M97.6 536.5H94.5V543.7H97.6M89.0 514.0H86.5V540.1H94.5M90.2 496.9H84.5V527.0H86.5M97.6 486.1H81.9V511.9H84.5M97.6 550.9H89.9V558.1H97.6M97.6 565.3H85.7V572.5H97.6M97.6 579.7H86.5V586.9H97.6M86.5 583.3H83.2V594.1H97.6M85.7 568.9H80.7V588.7H83.2M89.9 554.5H74.9V578.8H80.7M81.9 499.0H63.7V566.6H74.9M38.4 245.0H37.6V532.8H63.7M97.6 601.3H84.9V608.5H97.6M97.6 615.7H87.4V622.9H97.6M84.9 604.9H78.5V619.3H87.4M97.6 637.3H87.4V644.5H97.6M97.6 630.1H85.2V640.9H87.4M78.5 612.1H73.5V635.5H85.2M97.6 666.1H88.2V673.3H97.6M97.6 658.9H87.4V669.7H88.2M97.6 651.7H81.5V664.3H87.4M97.6 680.5H91.5V687.7H97.6M81.5 658.0H76.9V684.1H91.5M97.6 694.9H82.4V702.1H97.6M76.9 671.1H76.2V698.5H82.4M97.6 716.6H85.7V723.8H97.6M97.6 709.4H82.4V720.2H85.7M97.6 731.0H88.2V738.2H97.6M88.2 734.6H86.5V745.4H97.6M86.5 740.0H83.2V752.6H97.6M82.4 714.8H79.9V746.3H83.2M97.6 767.0H92.3V774.2H97.6M97.6 759.8H90.7V770.6H92.3M97.6 781.4H91.5V788.6H97.6M90.7 765.2H89.9V785.0H91.5M89.9 775.1H86.5V795.8H97.6M79.9 730.5H75.7V785.4H86.5M76.2 684.8H65.4V758.0H75.7M73.5 623.8H60.7V721.4H65.4M97.6 803.0H83.2V810.2H97.6M97.6 817.4H90.7V824.6H97.6M90.7 821.0H85.7V831.8H97.6M83.2 806.6H75.7V826.4H85.7M97.6 839.0H80.7V846.2H97.6M97.6 860.6H84.9V867.8H97.6M97.6 853.4H77.4V864.2H84.9M80.7 842.6H73.2V858.8H77.4M75.7 816.5H69.9V850.7H73.2M97.6 875.0H87.9V882.2H97.6M87.9 878.6H81.5V889.4H97.6M97.6 903.8H90.7V911.0H97.6M97.6 918.2H94.0V925.4H97.6M90.7 907.4H86.5V921.8H94.0M86.5 914.6H84.9V932.6H97.6M97.6 896.6H82.4V923.6H84.9M81.5 884.0H76.9V910.1H82.4M97.6 939.9H86.5V947.1H97.6M86.5 943.5H86.0V954.3H97.6M97.6 961.5H90.7V968.7H97.6M86.0 948.9H82.7V965.1H90.7M76.9 897.1H76.4V957.0H82.7M97.6 975.9H86.5V983.1H97.6M97.6 990.3H85.7V997.5H97.6M86.5 979.5H83.2V993.9H85.7M97.6 1011.9H95.7V1019.1H97.6M97.6 1004.7H86.5V1015.5H95.7M83.2 986.7H81.5V1010.1H86.5M97.6 1033.5H94.5V1040.7H97.6M94.5 1037.1H92.5V1047.9H97.6M92.5 1042.5H89.0V1055.1H97.6M97.6 1026.3H77.4V1048.8H89.0M81.5 998.4H75.7V1037.5H77.4M76.4 927.0H71.2V1018.0H75.7M97.6 1076.7H94.5V1083.9H97.6M97.6 1091.1H95.5V1098.3H97.6M94.5 1080.3H92.5V1094.7H95.5M92.5 1087.5H90.6V1105.5H97.6M97.6 1069.5H87.5V1096.5H90.6M97.6 1127.1H94.8V1134.3H97.6M97.6 1119.9H91.0V1130.7H94.8M97.6 1141.5H91.5V1148.7H97.6M91.0 1125.3H89.0V1145.1H91.5M97.6 1112.7H89.4V1135.2H89.0M97.6 1155.9H90.7V1163.1H97.6M89.4 1124.0H86.4V1159.5H90.7M87.5 1083.0H82.2V1141.8H86.4M97.6 1170.4H91.2V1177.6H97.6M91.2 1174.0H90.7V1184.8H97.6M90.7 1179.4H84.9V1192.0H97.6M82.2 1112.4H80.0V1185.7H84.9M97.6 1062.3H76.9V1149.0H80.0M97.6 1199.2H79.5V1206.4H97.6M76.9 1105.7H75.0V1202.8H79.5M97.6 1228.0H87.4V1235.2H97.6M97.6 1220.8H76.5V1231.6H87.4M97.6 1213.6H75.2V1226.2H76.5M75.2 1219.9H74.9V1242.4H97.6M75.0 1154.2H69.0V1231.1H74.9M97.6 1249.6H83.2V1256.8H97.6M97.6 1264.0H84.0V1271.2H97.6M84.0 1267.6H80.4V1278.4H97.6M83.2 1253.2H75.7V1273.0H80.4M69.0 1192.7H67.9V1263.1H75.7M71.2 972.5H58.6V1227.9H67.9M69.9 833.6H46.3V1100.2H58.6M60.7 672.6H41.5V966.9H46.3M37.6 388.9H3.4V819.8H41.5" fill="none" stroke="#2c2c2c" stroke-width="0.8"/>
<path d="M123.5 120.8V63.2H174.1V120.8M148.8 63.2V58.6H224.7V120.8M326.0 120.8V68.9H376.6V120.8M351.3 68.9V61.6H275.4V120.8M186.8 58.6V27.3H313.3V61.6" fill="none" stroke="#2c2c2c" stroke-width="0.8"/>
<defs><linearGradient id="hg" x1="0" y1="0" x2="0" y2="1"><stop offset="0" stop-color="#ff0000"/><stop offset="0.1" stop-color="#ff3c23"/><stop offset="0.25" stop-color="#ff8a66"/><stop offset="0.4" stop-color="#ffd4c4"/><stop offset="0.5" stop-color="#fbf8ff"/><stop offset="0.6" stop-color="#cdb4ff"/><stop offset="0.75" stop-color="#9468ff"/><stop offset="0.9" stop-color="#4623ff"/><stop offset="1" stop-color="#0000ff"/></linearGradient></defs>
<rect x="470" y="618.2" width="13" height="93.8" fill="url(#hg)"/>
<g font-size="7.9" fill="#000">
<text x="484.8" y="621.9">1</text>
<text x="484.8" y="644.9">0.5</text>
<text x="484.8" y="667.5">0</text>
<text x="484.8" y="690.3">-0.5</text>
<text x="484.8" y="713.1">-1</text>
</g>
<g stroke="#fff" stroke-width="0.5">
<path d="M470 619.2h1.5M481.5 619.2h1.5"/>
<path d="M470 642.3h1.5M481.5 642.3h1.5"/>
<path d="M470 665.3h1.5M481.5 665.3h1.5"/>
<path d="M470 688.3h1.5M481.5 688.3h1.5"/>
<path d="M470 711.3h1.5M481.5 711.3h1.5"/>
</g><g id="volcano">
<text x="706" y="22.2" font-size="11.2" text-anchor="middle" fill="#111">Volcano Plot</text>
<g stroke="#ababab" stroke-width="1.35" stroke-dasharray="7.2 7.04" fill="none" ><path d="M700.9 371.8V28.8"/><path d="M711 371.8V28.8"/><path d="M521.1 310.5H889.4"/></g>
<polygon points="651,310.2 699.5,310.2 702,323 704,333.5 706.2,344.5 708.5,333.5 711,323 713.2,310.2 774,310.2 772,321 767,332 760,339.5 753,344.5 742,349 732,352.5 716,357.3 698,357.3 687,354.3 671,348.5 660,344 650,339.5 643,332 640.5,324 643,316" fill="#000"/>
<circle cx="650.9" cy="311.0" r="2.5" fill="#000" fill-opacity="0.75"/>
<circle cx="650.9" cy="311.6" r="2.5" fill="#000" fill-opacity="0.75"/>
<circle cx="648.4" cy="312.8" r="2.5" fill="#000" fill-opacity="0.75"/>
<circle cx="646.1" cy="313.4" r="2.5" fill="#000" fill-opacity="0.75"/>
<circle cx="646.1" cy="315.1" r="2.5" fill="#000" fill-opacity="0.75"/>
<circle cx="643.1" cy="314.5" r="2.5" fill="#000" fill-opacity="0.75"/>
<circle cx="641.8" cy="316.9" r="2.5" fill="#000" fill-opacity="0.75"/>
<circle cx="643.2" cy="316.0" r="2.5" fill="#000" fill-opacity="0.75"/>
<circle cx="643.6" cy="320.1" r="2.5" fill="#000" fill-opacity="0.75"/>
<circle cx="642.2" cy="320.3" r="2.5" fill="#000" fill-opacity="0.75"/>
<circle cx="640.3" cy="319.9" r="2.5" fill="#000" fill-opacity="0.75"/>
<circle cx="641.0" cy="321.3" r="2.5" fill="#000" fill-opacity="0.75"/>
<circle cx="639.6" cy="323.2" r="2.5" fill="#000" fill-opacity="0.75"/>
<circle cx="639.5" cy="325.2" r="2.5" fill="#000" fill-opacity="0.75"/>
<circle cx="641.2" cy="327.7" r="2.5" fill="#000" fill-opacity="0.75"/>
<circle cx="641.8" cy="328.4" r="2.5" fill="#000" fill-opacity="0.75"/>
<circle cx="642.2" cy="329.8" r="2.5" fill="#000" fill-opacity="0.75"/>
<circle cx="642.5" cy="330.0" r="2.5" fill="#000" fill-opacity="0.75"/>
<circle cx="644.5" cy="333.5" r="2.5" fill="#000" fill-opacity="0.75"/>
<circle cx="645.0" cy="333.7" r="2.5" fill="#000" fill-opacity="0.75"/>
<circle cx="644.4" cy="333.3" r="2.5" fill="#000" fill-opacity="0.75"/>
<circle cx="645.4" cy="333.9" r="2.5" fill="#000" fill-opacity="0.75"/>
<circle cx="647.8" cy="336.0" r="2.5" fill="#000" fill-opacity="0.75"/>
<circle cx="649.0" cy="337.0" r="2.5" fill="#000" fill-opacity="0.75"/>
<circle cx="650.4" cy="339.5" r="2.5" fill="#000" fill-opacity="0.75"/>
<circle cx="648.5" cy="338.6" r="2.5" fill="#000" fill-opacity="0.75"/>
<circle cx="652.7" cy="340.1" r="2.5" fill="#000" fill-opacity="0.75"/>
<circle cx="654.3" cy="340.5" r="2.5" fill="#000" fill-opacity="0.75"/>
<circle cx="653.0" cy="341.8" r="2.5" fill="#000" fill-opacity="0.75"/>
<circle cx="656.5" cy="341.4" r="2.5" fill="#000" fill-opacity="0.75"/>
<circle cx="655.9" cy="342.2" r="2.5" fill="#000" fill-opacity="0.75"/>
<circle cx="660.0" cy="344.1" r="2.5" fill="#000" fill-opacity="0.75"/>
<circle cx="658.9" cy="343.2" r="2.5" fill="#000" fill-opacity="0.75"/>
<circle cx="660.2" cy="343.2" r="2.5" fill="#000" fill-opacity="0.75"/>
<circle cx="663.6" cy="344.2" r="2.5" fill="#000" fill-opacity="0.75"/>
<circle cx="664.3" cy="345.5" r="2.5" fill="#000" fill-opacity="0.75"/>
<circle cx="664.6" cy="346.9" r="2.5" fill="#000" fill-opacity="0.75"/>
<circle cx="665.8" cy="347.2" r="2.5" fill="#000" fill-opacity="0.75"/>
<circle cx="667.1" cy="347.1" r="2.5" fill="#000" fill-opacity="0.75"/>
<circle cx="668.8" cy="347.2" r="2.5" fill="#000" fill-opacity="0.75"/>
<circle cx="672.4" cy="349.4" r="2.5" fill="#000" fill-opacity="0.75"/>
<circle cx="671.9" cy="350.2" r="2.5" fill="#000" fill-opacity="0.75"/>
<circle cx="673.0" cy="349.2" r="2.5" fill="#000" fill-opacity="0.75"/>
<circle cx="676.4" cy="350.5" r="2.5" fill="#000" fill-opacity="0.75"/>
<circle cx="675.6" cy="352.1" r="2.5" fill="#000" fill-opacity="0.75"/>
<circle cx="677.4" cy="350.4" r="2.5" fill="#000" fill-opacity="0.75"/>
<circle cx="680.5" cy="351.2" r="2.5" fill="#000" fill-opacity="0.75"/>
<circle cx="680.6" cy="350.9" r="2.5" fill="#000" fill-opacity="0.75"/>
<circle cx="681.4" cy="353.0" r="2.5" fill="#000" fill-opacity="0.75"/>
<circle cx="683.3" cy="353.5" r="2.5" fill="#000" fill-opacity="0.75"/>
<circle cx="685.2" cy="353.6" r="2.5" fill="#000" fill-opacity="0.75"/>
<circle cx="688.4" cy="354.3" r="2.5" fill="#000" fill-opacity="0.75"/>
<circle cx="688.6" cy="355.7" r="2.5" fill="#000" fill-opacity="0.75"/>
<circle cx="688.8" cy="353.9" r="2.5" fill="#000" fill-opacity="0.75"/>
<circle cx="692.4" cy="356.3" r="2.5" fill="#000" fill-opacity="0.75"/>
<circle cx="691.7" cy="354.7" r="2.5" fill="#000" fill-opacity="0.75"/>
<circle cx="694.6" cy="357.3" r="2.5" fill="#000" fill-opacity="0.75"/>
<circle cx="694.3" cy="357.7" r="2.5" fill="#000" fill-opacity="0.75"/>
<circle cx="697.8" cy="357.0" r="2.5" fill="#000" fill-opacity="0.75"/>
<circle cx="697.8" cy="355.8" r="2.5" fill="#000" fill-opacity="0.75"/>
<circle cx="698.1" cy="358.4" r="2.5" fill="#000" fill-opacity="0.75"/>
<circle cx="700.2" cy="357.6" r="2.5" fill="#000" fill-opacity="0.75"/>
<circle cx="701.8" cy="358.0" r="2.5" fill="#000" fill-opacity="0.75"/>
<circle cx="704.3" cy="356.4" r="2.5" fill="#000" fill-opacity="0.75"/>
<circle cx="704.5" cy="357.7" r="2.5" fill="#000" fill-opacity="0.75"/>
<circle cx="705.7" cy="356.2" r="2.5" fill="#000" fill-opacity="0.75"/>
<circle cx="708.7" cy="358.1" r="2.5" fill="#000" fill-opacity="0.75"/>
<circle cx="710.3" cy="356.3" r="2.5" fill="#000" fill-opacity="0.75"/>
<circle cx="712.8" cy="356.1" r="2.5" fill="#000" fill-opacity="0.75"/>
<circle cx="711.5" cy="356.3" r="2.5" fill="#000" fill-opacity="0.75"/>
<circle cx="714.3" cy="355.7" r="2.5" fill="#000" fill-opacity="0.75"/>
<circle cx="715.0" cy="356.6" r="2.5" fill="#000" fill-opacity="0.75"/>
<circle cx="717.7" cy="355.5" r="2.5" fill="#000" fill-opacity="0.75"/>
<circle cx="718.5" cy="357.4" r="2.5" fill="#000" fill-opacity="0.75"/>
<circle cx="721.8" cy="356.2" r="2.5" fill="#000" fill-opacity="0.75"/>
<circle cx="722.4" cy="355.6" r="2.5" fill="#000" fill-opacity="0.75"/>
<circle cx="722.2" cy="353.6" r="2.5" fill="#000" fill-opacity="0.75"/>
<circle cx="723.3" cy="355.8" r="2.5" fill="#000" fill-opacity="0.75"/>
<circle cx="726.8" cy="355.5" r="2.5" fill="#000" fill-opacity="0.75"/>
<circle cx="726.2" cy="354.1" r="2.5" fill="#000" fill-opacity="0.75"/>
<circle cx="729.0" cy="354.0" r="2.5" fill="#000" fill-opacity="0.75"/>
<circle cx="730.0" cy="354.4" r="2.5" fill="#000" fill-opacity="0.75"/>
<circle cx="730.7" cy="352.6" r="2.5" fill="#000" fill-opacity="0.75"/>
<circle cx="734.1" cy="353.2" r="2.5" fill="#000" fill-opacity="0.75"/>
<circle cx="735.6" cy="352.1" r="2.5" fill="#000" fill-opacity="0.75"/>
<circle cx="737.2" cy="352.2" r="2.5" fill="#000" fill-opacity="0.75"/>
<circle cx="737.3" cy="351.1" r="2.5" fill="#000" fill-opacity="0.75"/>
<circle cx="740.3" cy="351.1" r="2.5" fill="#000" fill-opacity="0.75"/>
<circle cx="740.3" cy="350.4" r="2.5" fill="#000" fill-opacity="0.75"/>
<circle cx="743.1" cy="349.2" r="2.5" fill="#000" fill-opacity="0.75"/>
<circle cx="743.7" cy="348.1" r="2.5" fill="#000" fill-opacity="0.75"/>
<circle cx="745.0" cy="348.2" r="2.5" fill="#000" fill-opacity="0.75"/>
<circle cx="744.9" cy="347.7" r="2.5" fill="#000" fill-opacity="0.75"/>
<circle cx="749.0" cy="347.9" r="2.5" fill="#000" fill-opacity="0.75"/>
<circle cx="749.6" cy="345.9" r="2.5" fill="#000" fill-opacity="0.75"/>
<circle cx="751.0" cy="345.9" r="2.5" fill="#000" fill-opacity="0.75"/>
<circle cx="751.4" cy="346.1" r="2.5" fill="#000" fill-opacity="0.75"/>
<circle cx="751.8" cy="345.3" r="2.5" fill="#000" fill-opacity="0.75"/>
<circle cx="752.8" cy="344.0" r="2.5" fill="#000" fill-opacity="0.75"/>
<circle cx="755.3" cy="342.0" r="2.5" fill="#000" fill-opacity="0.75"/>
<circle cx="757.1" cy="342.0" r="2.5" fill="#000" fill-opacity="0.75"/>
<circle cx="758.0" cy="342.4" r="2.5" fill="#000" fill-opacity="0.75"/>
<circle cx="758.1" cy="338.9" r="2.5" fill="#000" fill-opacity="0.75"/>
<circle cx="759.4" cy="340.0" r="2.5" fill="#000" fill-opacity="0.75"/>
<circle cx="760.1" cy="337.4" r="2.5" fill="#000" fill-opacity="0.75"/>
<circle cx="763.2" cy="337.8" r="2.5" fill="#000" fill-opacity="0.75"/>
<circle cx="762.8" cy="337.5" r="2.5" fill="#000" fill-opacity="0.75"/>
<circle cx="763.5" cy="335.7" r="2.5" fill="#000" fill-opacity="0.75"/>
<circle cx="764.1" cy="333.9" r="2.5" fill="#000" fill-opacity="0.75"/>
<circle cx="766.9" cy="334.3" r="2.5" fill="#000" fill-opacity="0.75"/>
<circle cx="768.1" cy="331.7" r="2.5" fill="#000" fill-opacity="0.75"/>
<circle cx="767.9" cy="330.1" r="2.5" fill="#000" fill-opacity="0.75"/>
<circle cx="767.2" cy="329.2" r="2.5" fill="#000" fill-opacity="0.75"/>
<circle cx="769.9" cy="328.9" r="2.5" fill="#000" fill-opacity="0.75"/>
<circle cx="770.1" cy="327.9" r="2.5" fill="#000" fill-opacity="0.75"/>
<circle cx="769.5" cy="324.1" r="2.5" fill="#000" fill-opacity="0.75"/>
<circle cx="770.6" cy="323.1" r="2.5" fill="#000" fill-opacity="0.75"/>
<circle cx="770.5" cy="322.1" r="2.5" fill="#000" fill-opacity="0.75"/>
<circle cx="772.4" cy="321.0" r="2.5" fill="#000" fill-opacity="0.75"/>
<circle cx="771.7" cy="320.6" r="2.5" fill="#000" fill-opacity="0.75"/>
<circle cx="774.0" cy="318.0" r="2.5" fill="#000" fill-opacity="0.75"/>
<circle cx="771.6" cy="315.3" r="2.5" fill="#000" fill-opacity="0.75"/>
<circle cx="774.3" cy="313.9" r="2.5" fill="#000" fill-opacity="0.75"/>
<circle cx="774.1" cy="314.1" r="2.5" fill="#000" fill-opacity="0.75"/>
<circle cx="773.1" cy="313.3" r="2.5" fill="#000" fill-opacity="0.75"/>
<circle cx="639.0" cy="318.0" r="2.6" fill="#000" fill-opacity="0.55"/>
<circle cx="637.5" cy="326.0" r="2.6" fill="#000" fill-opacity="0.55"/>
<circle cx="640.0" cy="334.0" r="2.6" fill="#000" fill-opacity="0.55"/>
<circle cx="646.0" cy="341.5" r="2.6" fill="#000" fill-opacity="0.55"/>
<circle cx="655.0" cy="346.5" r="2.6" fill="#000" fill-opacity="0.55"/>
<circle cx="668.0" cy="352.0" r="2.6" fill="#000" fill-opacity="0.55"/>
<circle cx="682.0" cy="356.0" r="2.6" fill="#000" fill-opacity="0.55"/>
<circle cx="776.0" cy="313.0" r="2.6" fill="#000" fill-opacity="0.55"/>
<circle cx="774.0" cy="321.5" r="2.6" fill="#000" fill-opacity="0.55"/>
<circle cx="770.5" cy="321.0" r="2.6" fill="#000" fill-opacity="0.55"/>
<circle cx="769.0" cy="331.0" r="2.6" fill="#000" fill-opacity="0.55"/>
<circle cx="762.0" cy="339.5" r="2.6" fill="#000" fill-opacity="0.55"/>
<circle cx="753.0" cy="347.0" r="2.6" fill="#000" fill-opacity="0.55"/>
<circle cx="742.0" cy="353.0" r="2.6" fill="#000" fill-opacity="0.55"/>
<circle cx="729.0" cy="357.0" r="2.6" fill="#000" fill-opacity="0.55"/>
<circle cx="602.2" cy="328.1" r="2.95" fill="#000" fill-opacity="0.55"/>
<circle cx="772.4" cy="312.6" r="2.95" fill="#000" fill-opacity="0.6"/>
<defs><clipPath id="cpb"><rect x="690" y="312" width="30" height="47"/></clipPath></defs>
<circle cx="619.2" cy="78.9" r="2.95" fill="#00ec00" fill-opacity="0.6"/>
<circle cx="630.3" cy="80.5" r="2.95" fill="#00ec00" fill-opacity="0.6"/>
<circle cx="590.8" cy="134.6" r="2.95" fill="#00ec00" fill-opacity="0.6"/>
<circle cx="643.8" cy="171.9" r="2.95" fill="#00ec00" fill-opacity="0.6"/>
<circle cx="666.5" cy="171.6" r="2.95" fill="#00ec00" fill-opacity="0.6"/>
<circle cx="678.1" cy="200.3" r="2.95" fill="#00ec00" fill-opacity="0.6"/>
<circle cx="621.1" cy="203.8" r="2.95" fill="#00ec00" fill-opacity="0.6"/>
<circle cx="649.7" cy="230.5" r="2.95" fill="#00ec00" fill-opacity="0.6"/>
<circle cx="682.7" cy="228.1" r="2.95" fill="#00ec00" fill-opacity="0.6"/>
<circle cx="675.1" cy="235.9" r="2.95" fill="#00ec00" fill-opacity="0.6"/>
<circle cx="686.8" cy="236.8" r="2.95" fill="#00ec00" fill-opacity="0.6"/>
<circle cx="678.6" cy="241.6" r="2.95" fill="#00ec00" fill-opacity="0.6"/>
<circle cx="682.2" cy="244.0" r="2.95" fill="#00ec00" fill-opacity="0.6"/>
<circle cx="658.4" cy="258.4" r="2.95" fill="#00ec00" fill-opacity="0.6"/>
<circle cx="684.6" cy="255.1" r="2.95" fill="#00ec00" fill-opacity="0.6"/>
<circle cx="687.6" cy="258.4" r="2.95" fill="#00ec00" fill-opacity="0.6"/>
<circle cx="683.5" cy="261.0" r="2.95" fill="#00ec00" fill-opacity="0.6"/>
<circle cx="678.1" cy="274.6" r="2.95" fill="#00ec00" fill-opacity="0.6"/>
<circle cx="653.8" cy="271.9" r="2.95" fill="#00ec00" fill-opacity="0.6"/>
<circle cx="684.6" cy="280.8" r="2.95" fill="#00ec00" fill-opacity="0.6"/>
<circle cx="605.1" cy="297.6" r="2.95" fill="#00ec00" fill-opacity="0.6"/>
<circle cx="615.9" cy="304.3" r="2.95" fill="#00ec00" fill-opacity="0.6"/>
<circle cx="619.7" cy="303.8" r="2.95" fill="#00ec00" fill-opacity="0.6"/>
<circle cx="630.3" cy="302.2" r="2.95" fill="#00ec00" fill-opacity="0.6"/>
<circle cx="650.8" cy="298.4" r="2.95" fill="#00ec00" fill-opacity="0.6"/>
<circle cx="648.4" cy="306.2" r="2.95" fill="#00ec00" fill-opacity="0.6"/>
<circle cx="658.4" cy="300.3" r="2.95" fill="#00ec00" fill-opacity="0.6"/>
<circle cx="662.5" cy="291.5" r="2.95" fill="#00ec00" fill-opacity="0.6"/>
<circle cx="691.5" cy="287.5" r="2.95" fill="#00ec00" fill-opacity="0.6"/>
<circle cx="680.0" cy="286.8" r="2.95" fill="#00ec00" fill-opacity="0.6"/>
<circle cx="679.0" cy="292.0" r="2.95" fill="#00ec00" fill-opacity="0.6"/>
<circle cx="688.3" cy="308.2" r="2.95" fill="#00ec00" fill-opacity="0.6"/>
<circle cx="694.4" cy="308.2" r="2.95" fill="#00ec00" fill-opacity="0.6"/>
<circle cx="691.8" cy="301.2" r="2.95" fill="#00ec00" fill-opacity="0.6"/>
<circle cx="694.8" cy="306.1" r="2.95" fill="#00ec00" fill-opacity="0.6"/>
<circle cx="684.3" cy="299.5" r="2.95" fill="#00ec00" fill-opacity="0.6"/>
<circle cx="679.5" cy="296.2" r="2.95" fill="#00ec00" fill-opacity="0.6"/>
<circle cx="693.4" cy="301.7" r="2.95" fill="#00ec00" fill-opacity="0.6"/>
<circle cx="686.7" cy="307.8" r="2.95" fill="#00ec00" fill-opacity="0.6"/>
<circle cx="677.1" cy="308.1" r="2.95" fill="#00ec00" fill-opacity="0.6"/>
<circle cx="695.8" cy="301.7" r="2.95" fill="#00ec00" fill-opacity="0.6"/>
<circle cx="696.0" cy="298.1" r="2.95" fill="#00ec00" fill-opacity="0.6"/>
<circle cx="691.0" cy="295.2" r="2.95" fill="#00ec00" fill-opacity="0.6"/>
<circle cx="674.5" cy="295.7" r="2.95" fill="#00ec00" fill-opacity="0.6"/>
<circle cx="672.1" cy="295.8" r="2.95" fill="#00ec00" fill-opacity="0.6"/>
<circle cx="691.8" cy="306.2" r="2.95" fill="#00ec00" fill-opacity="0.6"/>
<circle cx="670.8" cy="301.1" r="2.95" fill="#00ec00" fill-opacity="0.6"/>
<circle cx="684.2" cy="299.4" r="2.95" fill="#00ec00" fill-opacity="0.6"/>
<circle cx="669.1" cy="290.3" r="2.95" fill="#00ec00" fill-opacity="0.6"/>
<circle cx="680.9" cy="298.1" r="2.95" fill="#00ec00" fill-opacity="0.6"/>
<circle cx="673.9" cy="294.3" r="2.95" fill="#00ec00" fill-opacity="0.6"/>
<circle cx="678.6" cy="304.4" r="2.95" fill="#00ec00" fill-opacity="0.6"/>
<circle cx="691.0" cy="302.4" r="2.95" fill="#00ec00" fill-opacity="0.6"/>
<circle cx="692.3" cy="287.2" r="2.95" fill="#00ec00" fill-opacity="0.6"/>
<circle cx="679.5" cy="294.2" r="2.95" fill="#00ec00" fill-opacity="0.6"/>
<circle cx="689.2" cy="283.9" r="2.95" fill="#00ec00" fill-opacity="0.6"/>
<circle cx="665.8" cy="304.1" r="2.95" fill="#00ec00" fill-opacity="0.6"/>
<circle cx="680.7" cy="285.2" r="2.95" fill="#00ec00" fill-opacity="0.6"/>
<circle cx="687.7" cy="300.3" r="2.95" fill="#00ec00" fill-opacity="0.6"/>
<circle cx="680.7" cy="302.6" r="2.95" fill="#00ec00" fill-opacity="0.6"/>
<circle cx="667.6" cy="302.6" r="2.95" fill="#00ec00" fill-opacity="0.6"/>
<circle cx="694.0" cy="308.8" r="2.95" fill="#00ec00" fill-opacity="0.6"/>
<circle cx="696.0" cy="304.9" r="2.95" fill="#00ec00" fill-opacity="0.6"/>
<circle cx="694.9" cy="302.0" r="2.95" fill="#00ec00" fill-opacity="0.6"/>
<circle cx="681.5" cy="290.8" r="2.95" fill="#00ec00" fill-opacity="0.6"/>
<circle cx="691.7" cy="303.7" r="2.95" fill="#00ec00" fill-opacity="0.6"/>
<circle cx="668.2" cy="307.0" r="2.95" fill="#00ec00" fill-opacity="0.6"/>
<circle cx="682.9" cy="293.5" r="2.95" fill="#00ec00" fill-opacity="0.6"/>
<circle cx="677.6" cy="304.3" r="2.95" fill="#00ec00" fill-opacity="0.6"/>
<circle cx="690.8" cy="307.4" r="2.95" fill="#00ec00" fill-opacity="0.6"/>
<circle cx="694.3" cy="294.6" r="2.95" fill="#00ec00" fill-opacity="0.6"/>
<circle cx="690.8" cy="290.2" r="2.95" fill="#00ec00" fill-opacity="0.6"/>
<circle cx="683.6" cy="297.8" r="2.95" fill="#00ec00" fill-opacity="0.6"/>
<circle cx="685.0" cy="296.2" r="2.95" fill="#00ec00" fill-opacity="0.6"/>
<circle cx="691.5" cy="298.1" r="2.95" fill="#00ec00" fill-opacity="0.6"/>
<circle cx="675.5" cy="287.7" r="2.95" fill="#00ec00" fill-opacity="0.6"/>
<circle cx="688.9" cy="286.4" r="2.95" fill="#00ec00" fill-opacity="0.6"/>
<circle cx="675.8" cy="306.1" r="2.95" fill="#00ec00" fill-opacity="0.6"/>
<circle cx="687.1" cy="305.4" r="2.95" fill="#00ec00" fill-opacity="0.6"/>
<circle cx="676.6" cy="305.8" r="2.95" fill="#00ec00" fill-opacity="0.6"/>
<circle cx="694.9" cy="307.3" r="2.95" fill="#00ec00" fill-opacity="0.6"/>
<circle cx="676.0" cy="306.2" r="2.95" fill="#00ec00" fill-opacity="0.6"/>
<circle cx="670.8" cy="296.4" r="2.95" fill="#00ec00" fill-opacity="0.6"/>
<circle cx="678.1" cy="303.6" r="2.95" fill="#00ec00" fill-opacity="0.6"/>
<circle cx="696.0" cy="304.9" r="2.95" fill="#00ec00" fill-opacity="0.6"/>
<circle cx="679.4" cy="306.0" r="2.95" fill="#00ec00" fill-opacity="0.6"/>
<circle cx="657.0" cy="301.7" r="2.95" fill="#00ec00" fill-opacity="0.6"/>
<circle cx="695.9" cy="295.5" r="2.95" fill="#00ec00" fill-opacity="0.6"/>
<circle cx="684.4" cy="299.8" r="2.95" fill="#00ec00" fill-opacity="0.6"/>
<circle cx="682.1" cy="285.4" r="2.95" fill="#00ec00" fill-opacity="0.6"/>
<circle cx="682.1" cy="307.5" r="2.95" fill="#00ec00" fill-opacity="0.6"/>
<circle cx="689.0" cy="293.5" r="2.95" fill="#00ec00" fill-opacity="0.6"/>
<circle cx="689.6" cy="306.1" r="2.95" fill="#00ec00" fill-opacity="0.6"/>
<circle cx="755.8" cy="79.0" r="2.95" fill="#ff0000" fill-opacity="0.6"/>
<circle cx="771.6" cy="79.0" r="2.95" fill="#ff0000" fill-opacity="0.6"/>
<circle cx="788.5" cy="78.4" r="2.95" fill="#ff0000" fill-opacity="0.6"/>
<circle cx="793.1" cy="78.4" r="2.95" fill="#ff0000" fill-opacity="0.6"/>
<circle cx="799.4" cy="78.4" r="2.95" fill="#ff0000" fill-opacity="0.6"/>
<circle cx="805.7" cy="78.4" r="2.95" fill="#ff0000" fill-opacity="0.6"/>
<circle cx="822.0" cy="79.0" r="2.95" fill="#ff0000" fill-opacity="0.6"/>
<circle cx="837.0" cy="78.4" r="2.95" fill="#ff0000" fill-opacity="0.6"/>
<circle cx="865.0" cy="79.0" r="2.95" fill="#ff0000" fill-opacity="0.6"/>
<circle cx="860.7" cy="87.7" r="2.95" fill="#ff0000" fill-opacity="0.6"/>
<circle cx="850.6" cy="94.0" r="2.95" fill="#ff0000" fill-opacity="0.6"/>
<circle cx="811.7" cy="98.9" r="2.95" fill="#ff0000" fill-opacity="0.6"/>
<circle cx="749.6" cy="108.9" r="2.95" fill="#ff0000" fill-opacity="0.6"/>
<circle cx="753.6" cy="156.3" r="2.95" fill="#ff0000" fill-opacity="0.6"/>
<circle cx="819.8" cy="204.0" r="2.95" fill="#ff0000" fill-opacity="0.6"/>
<circle cx="817.6" cy="218.1" r="2.95" fill="#ff0000" fill-opacity="0.6"/>
<circle cx="852.5" cy="227.1" r="2.95" fill="#ff0000" fill-opacity="0.6"/>
<circle cx="802.4" cy="248.6" r="2.95" fill="#ff0000" fill-opacity="0.6"/>
<circle cx="740.8" cy="205.1" r="2.95" fill="#ff0000" fill-opacity="0.6"/>
<circle cx="746.3" cy="207.8" r="2.95" fill="#ff0000" fill-opacity="0.6"/>
<circle cx="749.8" cy="208.3" r="2.95" fill="#ff0000" fill-opacity="0.6"/>
<circle cx="751.7" cy="216.2" r="2.95" fill="#ff0000" fill-opacity="0.6"/>
<circle cx="730.8" cy="223.6" r="2.95" fill="#ff0000" fill-opacity="0.6"/>
<circle cx="733.2" cy="229.0" r="2.95" fill="#ff0000" fill-opacity="0.6"/>
<circle cx="734.9" cy="233.6" r="2.95" fill="#ff0000" fill-opacity="0.6"/>
<circle cx="740.0" cy="236.6" r="2.95" fill="#ff0000" fill-opacity="0.6"/>
<circle cx="743.6" cy="227.7" r="2.95" fill="#ff0000" fill-opacity="0.6"/>
<circle cx="745.0" cy="228.5" r="2.95" fill="#ff0000" fill-opacity="0.6"/>
<circle cx="728.3" cy="247.3" r="2.95" fill="#ff0000" fill-opacity="0.6"/>
<circle cx="734.9" cy="245.4" r="2.95" fill="#ff0000" fill-opacity="0.6"/>
<circle cx="726.7" cy="256.3" r="2.95" fill="#ff0000" fill-opacity="0.6"/>
<circle cx="764.5" cy="255.4" r="2.95" fill="#ff0000" fill-opacity="0.6"/>
<circle cx="764.5" cy="260.9" r="2.95" fill="#ff0000" fill-opacity="0.6"/>
<circle cx="721.2" cy="267.7" r="2.95" fill="#ff0000" fill-opacity="0.6"/>
<circle cx="727.2" cy="267.1" r="2.95" fill="#ff0000" fill-opacity="0.6"/>
<circle cx="730.8" cy="269.1" r="2.95" fill="#ff0000" fill-opacity="0.6"/>
<circle cx="738.1" cy="267.7" r="2.95" fill="#ff0000" fill-opacity="0.6"/>
<circle cx="730.8" cy="275.3" r="2.95" fill="#ff0000" fill-opacity="0.6"/>
<circle cx="734.9" cy="276.1" r="2.95" fill="#ff0000" fill-opacity="0.6"/>
<circle cx="738.9" cy="274.5" r="2.95" fill="#ff0000" fill-opacity="0.6"/>
<circle cx="743.6" cy="272.6" r="2.95" fill="#ff0000" fill-opacity="0.6"/>
<circle cx="760.5" cy="274.0" r="2.95" fill="#ff0000" fill-opacity="0.6"/>
<circle cx="758.6" cy="278.6" r="2.95" fill="#ff0000" fill-opacity="0.6"/>
<circle cx="761.3" cy="280.8" r="2.95" fill="#ff0000" fill-opacity="0.6"/>
<circle cx="788.8" cy="282.9" r="2.95" fill="#ff0000" fill-opacity="0.6"/>
<circle cx="789.9" cy="288.9" r="2.95" fill="#ff0000" fill-opacity="0.6"/>
<circle cx="776.3" cy="290.3" r="2.95" fill="#ff0000" fill-opacity="0.6"/>
<circle cx="773.0" cy="302.5" r="2.95" fill="#ff0000" fill-opacity="0.6"/>
<circle cx="767.5" cy="304.7" r="2.95" fill="#ff0000" fill-opacity="0.6"/>
<circle cx="777.1" cy="308.0" r="2.95" fill="#ff0000" fill-opacity="0.6"/>
<circle cx="785.2" cy="306.9" r="2.95" fill="#ff0000" fill-opacity="0.6"/>
<circle cx="753.1" cy="306.6" r="2.95" fill="#ff0000" fill-opacity="0.6"/>
<circle cx="757.2" cy="307.2" r="2.95" fill="#ff0000" fill-opacity="0.6"/>
<circle cx="722.0" cy="274.0" r="2.95" fill="#ff0000" fill-opacity="0.6"/>
<circle cx="723.5" cy="279.0" r="2.95" fill="#ff0000" fill-opacity="0.6"/>
<circle cx="721.5" cy="283.5" r="2.95" fill="#ff0000" fill-opacity="0.6"/>
<circle cx="727.0" cy="285.0" r="2.95" fill="#ff0000" fill-opacity="0.6"/>
<circle cx="714.5" cy="306.3" r="2.95" fill="#ff0000" fill-opacity="0.6"/>
<circle cx="717.0" cy="300.2" r="2.95" fill="#ff0000" fill-opacity="0.6"/>
<circle cx="718.1" cy="298.4" r="2.95" fill="#ff0000" fill-opacity="0.6"/>
<circle cx="724.3" cy="294.7" r="2.95" fill="#ff0000" fill-opacity="0.6"/>
<circle cx="729.4" cy="296.1" r="2.95" fill="#ff0000" fill-opacity="0.6"/>
<circle cx="724.3" cy="298.2" r="2.95" fill="#ff0000" fill-opacity="0.6"/>
<circle cx="714.0" cy="300.4" r="2.95" fill="#ff0000" fill-opacity="0.6"/>
<circle cx="726.6" cy="306.4" r="2.95" fill="#ff0000" fill-opacity="0.6"/>
<circle cx="722.8" cy="299.5" r="2.95" fill="#ff0000" fill-opacity="0.6"/>
<circle cx="721.0" cy="307.6" r="2.95" fill="#ff0000" fill-opacity="0.6"/>
<circle cx="718.8" cy="291.4" r="2.95" fill="#ff0000" fill-opacity="0.6"/>
<circle cx="723.5" cy="296.8" r="2.95" fill="#ff0000" fill-opacity="0.6"/>
<circle cx="723.8" cy="294.6" r="2.95" fill="#ff0000" fill-opacity="0.6"/>
<circle cx="719.4" cy="301.6" r="2.95" fill="#ff0000" fill-opacity="0.6"/>
<circle cx="715.3" cy="285.3" r="2.95" fill="#ff0000" fill-opacity="0.6"/>
<circle cx="722.6" cy="302.5" r="2.95" fill="#ff0000" fill-opacity="0.6"/>
<circle cx="724.8" cy="282.0" r="2.95" fill="#ff0000" fill-opacity="0.6"/>
<circle cx="718.9" cy="304.5" r="2.95" fill="#ff0000" fill-opacity="0.6"/>
<circle cx="715.3" cy="288.1" r="2.95" fill="#ff0000" fill-opacity="0.6"/>
<circle cx="714.3" cy="303.1" r="2.95" fill="#ff0000" fill-opacity="0.6"/>
<circle cx="720.2" cy="297.2" r="2.95" fill="#ff0000" fill-opacity="0.6"/>
<circle cx="715.5" cy="302.5" r="2.95" fill="#ff0000" fill-opacity="0.6"/>
<circle cx="728.9" cy="297.7" r="2.95" fill="#ff0000" fill-opacity="0.6"/>
<circle cx="722.0" cy="308.0" r="2.95" fill="#ff0000" fill-opacity="0.6"/>
<circle cx="724.9" cy="282.9" r="2.95" fill="#ff0000" fill-opacity="0.6"/>
<circle cx="719.8" cy="307.7" r="2.95" fill="#ff0000" fill-opacity="0.6"/>
<circle cx="734.2" cy="308.2" r="2.95" fill="#ff0000" fill-opacity="0.6"/>
<circle cx="732.3" cy="308.7" r="2.95" fill="#ff0000" fill-opacity="0.6"/>
<circle cx="715.7" cy="304.4" r="2.95" fill="#ff0000" fill-opacity="0.6"/>
<circle cx="716.6" cy="306.8" r="2.95" fill="#ff0000" fill-opacity="0.6"/>
<circle cx="727.7" cy="304.0" r="2.95" fill="#ff0000" fill-opacity="0.6"/>
<circle cx="720.1" cy="305.9" r="2.95" fill="#ff0000" fill-opacity="0.6"/>
<circle cx="717.2" cy="301.0" r="2.95" fill="#ff0000" fill-opacity="0.6"/>
<circle cx="718.8" cy="306.4" r="2.95" fill="#ff0000" fill-opacity="0.6"/>
<circle cx="741.3" cy="296.9" r="2.95" fill="#ff0000" fill-opacity="0.6"/>
<circle cx="733.8" cy="303.8" r="2.95" fill="#ff0000" fill-opacity="0.6"/>
<circle cx="720.2" cy="296.1" r="2.95" fill="#ff0000" fill-opacity="0.6"/>
<circle cx="726.7" cy="307.7" r="2.95" fill="#ff0000" fill-opacity="0.6"/>
<circle cx="715.6" cy="307.7" r="2.95" fill="#ff0000" fill-opacity="0.6"/>
<circle cx="721.0" cy="285.1" r="2.95" fill="#ff0000" fill-opacity="0.6"/>
<circle cx="719.5" cy="296.0" r="2.95" fill="#ff0000" fill-opacity="0.6"/>
<circle cx="714.8" cy="295.8" r="2.95" fill="#ff0000" fill-opacity="0.6"/>
<circle cx="716.4" cy="301.7" r="2.95" fill="#ff0000" fill-opacity="0.6"/>
<circle cx="716.1" cy="308.8" r="2.95" fill="#ff0000" fill-opacity="0.6"/>
<circle cx="730.9" cy="294.5" r="2.95" fill="#ff0000" fill-opacity="0.6"/>
<circle cx="720.7" cy="284.2" r="2.95" fill="#ff0000" fill-opacity="0.6"/>
<circle cx="722.4" cy="299.4" r="2.95" fill="#ff0000" fill-opacity="0.6"/>
<circle cx="725.5" cy="300.0" r="2.95" fill="#ff0000" fill-opacity="0.6"/>
<circle cx="735.6" cy="306.4" r="2.95" fill="#ff0000" fill-opacity="0.6"/>
<circle cx="715.4" cy="280.4" r="2.95" fill="#ff0000" fill-opacity="0.6"/>
<circle cx="714.7" cy="286.5" r="2.95" fill="#ff0000" fill-opacity="0.6"/>
<circle cx="718.8" cy="296.8" r="2.95" fill="#ff0000" fill-opacity="0.6"/>
<circle cx="733.7" cy="292.8" r="2.95" fill="#ff0000" fill-opacity="0.6"/>
<circle cx="721.0" cy="288.1" r="2.95" fill="#ff0000" fill-opacity="0.6"/>
<circle cx="715.2" cy="295.8" r="2.95" fill="#ff0000" fill-opacity="0.6"/>
<circle cx="714.8" cy="304.1" r="2.95" fill="#ff0000" fill-opacity="0.6"/>
<circle cx="721.4" cy="296.7" r="2.95" fill="#ff0000" fill-opacity="0.6"/>
<circle cx="725.2" cy="308.2" r="2.95" fill="#ff0000" fill-opacity="0.6"/>
<circle cx="724.8" cy="295.1" r="2.95" fill="#ff0000" fill-opacity="0.6"/>
<circle cx="717.2" cy="277.9" r="2.95" fill="#ff0000" fill-opacity="0.6"/>
<circle cx="719.5" cy="298.8" r="2.95" fill="#ff0000" fill-opacity="0.6"/>
<circle cx="722.4" cy="294.8" r="2.95" fill="#ff0000" fill-opacity="0.6"/>
<circle cx="725.7" cy="306.3" r="2.95" fill="#ff0000" fill-opacity="0.6"/>
<circle cx="731.2" cy="309.0" r="2.95" fill="#ff0000" fill-opacity="0.6"/>
<circle cx="720.1" cy="288.0" r="2.95" fill="#ff0000" fill-opacity="0.6"/>
<circle cx="716.6" cy="308.7" r="2.95" fill="#ff0000" fill-opacity="0.6"/>
<circle cx="728.7" cy="294.9" r="2.95" fill="#ff0000" fill-opacity="0.6"/>
<circle cx="714.5" cy="295.8" r="2.95" fill="#ff0000" fill-opacity="0.6"/>
<circle cx="721.5" cy="306.3" r="2.95" fill="#ff0000" fill-opacity="0.6"/>
<circle cx="717.9" cy="304.8" r="2.95" fill="#ff0000" fill-opacity="0.6"/>
<circle cx="714.1" cy="280.8" r="2.95" fill="#ff0000" fill-opacity="0.6"/>
<circle cx="727.6" cy="304.2" r="2.95" fill="#ff0000" fill-opacity="0.6"/>
<circle cx="729.2" cy="305.5" r="2.95" fill="#ff0000" fill-opacity="0.6"/>
<circle cx="731.1" cy="308.4" r="2.95" fill="#ff0000" fill-opacity="0.6"/>
<circle cx="715.7" cy="304.2" r="2.95" fill="#ff0000" fill-opacity="0.6"/>
<circle cx="730.6" cy="296.4" r="2.95" fill="#ff0000" fill-opacity="0.6"/>
<circle cx="740.6" cy="300.6" r="2.95" fill="#ff0000" fill-opacity="0.6"/>
<circle cx="721.3" cy="296.6" r="2.95" fill="#ff0000" fill-opacity="0.6"/>
<circle cx="720.8" cy="295.7" r="2.95" fill="#ff0000" fill-opacity="0.6"/>
<circle cx="717.2" cy="306.1" r="2.95" fill="#ff0000" fill-opacity="0.6"/>
<circle cx="725.8" cy="304.4" r="2.95" fill="#ff0000" fill-opacity="0.6"/>
<circle cx="730.0" cy="306.1" r="2.95" fill="#ff0000" fill-opacity="0.6"/>
<circle cx="720.5" cy="301.0" r="2.95" fill="#ff0000" fill-opacity="0.6"/>
<circle cx="722.6" cy="295.2" r="2.95" fill="#ff0000" fill-opacity="0.6"/>
<circle cx="718.0" cy="288.8" r="2.95" fill="#ff0000" fill-opacity="0.6"/>
<g stroke="#e2e2e2" stroke-width="1.35" stroke-dasharray="7.2 7.04" fill="none" clip-path="url(#cpb)"><path d="M700.9 371.8V28.8"/><path d="M711 371.8V28.8"/><path d="M521.1 310.5H889.4"/></g>
<path d="M521.9 29.3V371H889.4" fill="none" stroke="#3c3c3c" stroke-width="1.05"/>
<g stroke="#444" stroke-width="0.8">
<path d="M519.8 96.2H521.9"/>
<path d="M519.8 182.7H521.9"/>
<path d="M519.8 269.1H521.9"/>
<path d="M519.8 355.2H521.9"/>
<path d="M607.5 371V373.2"/>
<path d="M705.8 371V373.2"/>
<path d="M804 371V373.2"/>
</g>
<g font-size="7" fill="#4d4d4d">
<text x="517.4" y="98.6" text-anchor="end">7.5</text>
<text x="517.4" y="185.1" text-anchor="end">5.0</text>
<text x="517.4" y="271.5" text-anchor="end">2.5</text>
<text x="517.4" y="357.6" text-anchor="end">0.0</text>
<text x="607.5" y="380.6" text-anchor="middle">-5</text>
<text x="705.8" y="380.6" text-anchor="middle">0</text>
<text x="804" y="380.6" text-anchor="middle">5</text>
</g>
<text x="706" y="399.6" font-size="12.5" text-anchor="middle" fill="#111">log2(T/C)</text>
<text transform="translate(494.3 244.4) rotate(-90)" font-size="12.8" fill="#111">− log<tspan font-size="8.6" dy="2.4">10</tspan><tspan dy="-2.4" font-size="15.5">(</tspan>PValue<tspan font-size="15.5">)</tspan></text>
<g stroke="#7a7a7a" stroke-width="1.5" stroke-linecap="round">
<path d="M622.6 69.3L619.6 78.5"/>
<path d="M590.8 146.5L589.8 135.5"/>
<path d="M673 158.5L667 171"/>
<path d="M635.7 185L643.5 172.5"/>
<path d="M670.3 188.1L677.5 199.5"/>
<path d="M652.4 218.6L649.9 230"/>
<path d="M693.5 218.6L683 227.8"/>
<path d="M634.9 238.6L658 258"/>
<path d="M673 241.6L678.6 241.6"/>
<path d="M693.5 244.9L685.4 259.7"/>
<path d="M624.1 264.6L680 286.8"/>
<path d="M675.1 272.7L677.8 274.4"/>
<path d="M594.9 290.3L605.1 297.6"/>
<path d="M651.6 290.3L678.6 294.9"/>
<path d="M690.8 294.9L684.6 281.4"/>
<path d="M617.8 313.8L618.4 304.3"/>
<path d="M649.7 312.4L658.4 304.3"/>
<path d="M693.5 320.5L681.4 303"/>
<path d="M666.5 336.8L679.5 309.7"/>
<path d="M787.1 47.1L801.3 79"/>
<path d="M760.5 64L788.5 78.4"/>
<path d="M828 69.4L822 79"/>
<path d="M870.2 69.4L865 79"/>
<path d="M740.3 88.5L755.8 79"/>
<path d="M779 92.6L788.5 79"/>
<path d="M820.6 92.6L805.7 79"/>
<path d="M859.3 92.6L837 78.4"/>
<path d="M804.3 114.4L793.1 79"/>
<path d="M832.1 117.6L799.4 79"/>
<path d="M755.8 143L753.6 156.3"/>
<path d="M750.9 188.2L750.4 208"/>
<path d="M727.2 218.7L728.3 247.3"/>
<path d="M756.6 233.1L744.4 228.2"/>
<path d="M809.7 234.5L802.4 248.6"/>
<path d="M744.4 256.3L734.9 245.4"/>
<path d="M717.7 269.3L725.9 267.1"/>
<path d="M744.9 288.9L734.9 276.1"/>
<path d="M736.8 316.2L736.8 303.9"/>
<path d="M769.4 345.6L727.2 288.9"/>
</g>
<g font-size="7.25" text-anchor="middle">
<rect x="621.9" y="58.1" width="28.4" height="11.4" rx="1.6" fill="#fff" fill-opacity="0.68" stroke="#6fe86f" stroke-width="0.9"/>
<text x="636.1" y="66.3" fill="#3fdc3f" stroke="#3fdc3f" stroke-width="0.15">Mup19</text>
<rect x="558.9" y="145.1" width="31.9" height="10.8" rx="1.6" fill="#fff" fill-opacity="0.68" stroke="#6fe86f" stroke-width="0.9"/>
<text x="574.8" y="153.1" fill="#3fdc3f" stroke="#3fdc3f" stroke-width="0.15">Akr1c18</text>
<rect x="673.0" y="151.4" width="20.5" height="10.8" rx="1.6" fill="#fff" fill-opacity="0.68" stroke="#6fe86f" stroke-width="0.9"/>
<text x="683.2" y="159.4" fill="#3fdc3f" stroke="#3fdc3f" stroke-width="0.15">Fgl1</text>
<rect x="612.4" y="182.4" width="23.3" height="10.3" rx="1.6" fill="#fff" fill-opacity="0.68" stroke="#6fe86f" stroke-width="0.9"/>
<text x="624.0" y="190.1" fill="#3fdc3f" stroke="#3fdc3f" stroke-width="0.15">Orm2</text>
<rect x="650.8" y="181.6" width="19.5" height="10.8" rx="1.6" fill="#fff" fill-opacity="0.68" stroke="#6fe86f" stroke-width="0.9"/>
<text x="660.5" y="189.6" fill="#3fdc3f" stroke="#3fdc3f" stroke-width="0.15">Itih4</text>
<rect x="637.3" y="207.8" width="30.3" height="10.8" rx="1.6" fill="#fff" fill-opacity="0.68" stroke="#6fe86f" stroke-width="0.9"/>
<text x="652.5" y="215.8" fill="#3fdc3f" stroke="#3fdc3f" stroke-width="0.15">Pik3c2b</text>
<rect x="687.6" y="207.8" width="16.2" height="10.8" rx="1.6" fill="#fff" fill-opacity="0.68" stroke="#6fe86f" stroke-width="0.9"/>
<text x="695.7" y="215.8" fill="#3fdc3f" stroke="#3fdc3f" stroke-width="0.15">Cfh</text>
<rect x="613.8" y="233.2" width="21.1" height="10.9" rx="1.6" fill="#fff" fill-opacity="0.68" stroke="#6fe86f" stroke-width="0.9"/>
<text x="624.3" y="241.2" fill="#3fdc3f" stroke="#3fdc3f" stroke-width="0.15">Apcs</text>
<rect x="649.7" y="236.8" width="23.3" height="10.2" rx="1.6" fill="#fff" fill-opacity="0.68" stroke="#6fe86f" stroke-width="0.9"/>
<text x="661.4" y="244.5" fill="#3fdc3f" stroke="#3fdc3f" stroke-width="0.15">Orm1</text>
<rect x="693.5" y="238.1" width="17.6" height="10.8" rx="1.6" fill="#fff" fill-opacity="0.68" stroke="#6fe86f" stroke-width="0.9"/>
<text x="702.3" y="246.1" fill="#3fdc3f" stroke="#3fdc3f" stroke-width="0.15">Hpx</text>
<rect x="598.9" y="259.2" width="25.2" height="10.8" rx="1.6" fill="#fff" fill-opacity="0.68" stroke="#6fe86f" stroke-width="0.9"/>
<text x="611.5" y="267.2" fill="#3fdc3f" stroke="#3fdc3f" stroke-width="0.15">Igfbp1</text>
<rect x="657.0" y="261.9" width="21.1" height="10.8" rx="1.6" fill="#fff" fill-opacity="0.68" stroke="#6fe86f" stroke-width="0.9"/>
<text x="667.5" y="269.8" fill="#3fdc3f" stroke="#3fdc3f" stroke-width="0.15">Egr3</text>
<rect x="565.1" y="284.9" width="29.8" height="10.8" rx="1.6" fill="#fff" fill-opacity="0.68" stroke="#6fe86f" stroke-width="0.9"/>
<text x="580.0" y="292.8" fill="#3fdc3f" stroke="#3fdc3f" stroke-width="0.15">Cyp1a1</text>
<rect x="626.5" y="284.9" width="25.1" height="10.8" rx="1.6" fill="#fff" fill-opacity="0.68" stroke="#6fe86f" stroke-width="0.9"/>
<text x="639.0" y="292.8" fill="#3fdc3f" stroke="#3fdc3f" stroke-width="0.15">Cmah</text>
<rect x="690.8" y="290.8" width="20.3" height="10.8" rx="1.6" fill="#fff" fill-opacity="0.68" stroke="#6fe86f" stroke-width="0.9"/>
<text x="701.0" y="298.8" fill="#3fdc3f" stroke="#3fdc3f" stroke-width="0.15">Lrg1</text>
<rect x="588.9" y="313.8" width="28.4" height="10.8" rx="1.6" fill="#fff" fill-opacity="0.68" stroke="#6fe86f" stroke-width="0.9"/>
<text x="603.1" y="321.8" fill="#3fdc3f" stroke="#3fdc3f" stroke-width="0.15">Olfr110</text>
<rect x="633.5" y="310.5" width="16.2" height="10.9" rx="1.6" fill="#fff" fill-opacity="0.68" stroke="#6fe86f" stroke-width="0.9"/>
<text x="641.6" y="318.5" fill="#3fdc3f" stroke="#3fdc3f" stroke-width="0.15">Erg</text>
<rect x="693.5" y="316.3" width="27.0" height="10.6" rx="1.6" fill="#fff" fill-opacity="0.68" stroke="#6fe86f" stroke-width="0.9"/>
<text x="707.0" y="324.2" fill="#3fdc3f" stroke="#3fdc3f" stroke-width="0.15">Zbtb16</text>
<rect x="649.5" y="336.6" width="29.7" height="10.6" rx="1.6" fill="#fff" fill-opacity="0.68" stroke="#6fe86f" stroke-width="0.9"/>
<text x="664.4" y="344.4" fill="#3fdc3f" stroke="#3fdc3f" stroke-width="0.15">Cyp1a2</text>
<rect x="774.9" y="36.2" width="24.5" height="10.9" rx="1.6" fill="#fff" fill-opacity="0.68" stroke="#ff7070" stroke-width="0.9"/>
<text x="787.1" y="44.2" fill="#f83c3c" stroke="#f83c3c" stroke-width="0.15">Acta1</text>
<rect x="736.8" y="58.6" width="23.7" height="10.8" rx="1.6" fill="#fff" fill-opacity="0.68" stroke="#ff7070" stroke-width="0.9"/>
<text x="748.6" y="66.5" fill="#f83c3c" stroke="#f83c3c" stroke-width="0.15">Tpm2</text>
<rect x="813.8" y="58.6" width="30.5" height="10.8" rx="1.6" fill="#fff" fill-opacity="0.68" stroke="#ff7070" stroke-width="0.9"/>
<text x="829.0" y="66.5" fill="#f83c3c" stroke="#f83c3c" stroke-width="0.15">Mybpc1</text>
<rect x="859.3" y="58.6" width="23.2" height="10.8" rx="1.6" fill="#fff" fill-opacity="0.68" stroke="#ff7070" stroke-width="0.9"/>
<text x="870.9" y="66.5" fill="#f83c3c" stroke="#f83c3c" stroke-width="0.15">Myh1</text>
<rect x="717.2" y="83.9" width="23.1" height="10.9" rx="1.6" fill="#fff" fill-opacity="0.68" stroke="#ff7070" stroke-width="0.9"/>
<text x="728.8" y="91.9" fill="#f83c3c" stroke="#f83c3c" stroke-width="0.15">Mylpf</text>
<rect x="754.5" y="89.0" width="24.5" height="11.0" rx="1.6" fill="#fff" fill-opacity="0.68" stroke="#ff7070" stroke-width="0.9"/>
<text x="766.8" y="97.0" fill="#f83c3c" stroke="#f83c3c" stroke-width="0.15">Tnnt3</text>
<rect x="820.6" y="89.0" width="23.7" height="11.0" rx="1.6" fill="#fff" fill-opacity="0.68" stroke="#ff7070" stroke-width="0.9"/>
<text x="832.5" y="97.0" fill="#f83c3c" stroke="#f83c3c" stroke-width="0.15">Actn3</text>
<rect x="859.3" y="89.0" width="23.2" height="11.0" rx="1.6" fill="#fff" fill-opacity="0.68" stroke="#ff7070" stroke-width="0.9"/>
<text x="870.9" y="97.0" fill="#f83c3c" stroke="#f83c3c" stroke-width="0.15">Myh2</text>
<rect x="793.4" y="114.4" width="24.2" height="10.9" rx="1.6" fill="#fff" fill-opacity="0.68" stroke="#ff7070" stroke-width="0.9"/>
<text x="805.5" y="122.4" fill="#f83c3c" stroke="#f83c3c" stroke-width="0.15">Pvalb</text>
<rect x="832.1" y="114.4" width="29.1" height="10.9" rx="1.6" fill="#fff" fill-opacity="0.68" stroke="#ff7070" stroke-width="0.9"/>
<text x="846.7" y="122.4" fill="#f83c3c" stroke="#f83c3c" stroke-width="0.15">Atp2a1</text>
<rect x="755.8" y="136.2" width="28.6" height="10.9" rx="1.6" fill="#fff" fill-opacity="0.68" stroke="#ff7070" stroke-width="0.9"/>
<text x="770.1" y="144.2" fill="#f83c3c" stroke="#f83c3c" stroke-width="0.15">Col1a1</text>
<rect x="751.7" y="182.7" width="28.1" height="10.4" rx="1.6" fill="#fff" fill-opacity="0.68" stroke="#ff7070" stroke-width="0.9"/>
<text x="765.8" y="190.4" fill="#f83c3c" stroke="#f83c3c" stroke-width="0.15">Col1a2</text>
<rect x="713.1" y="208.3" width="29.1" height="10.4" rx="1.6" fill="#fff" fill-opacity="0.68" stroke="#ff7070" stroke-width="0.9"/>
<text x="727.7" y="216.1" fill="#f83c3c" stroke="#f83c3c" stroke-width="0.15">Wfdc17</text>
<rect x="756.6" y="230.4" width="16.9" height="10.9" rx="1.6" fill="#fff" fill-opacity="0.68" stroke="#ff7070" stroke-width="0.9"/>
<text x="765.0" y="238.4" fill="#f83c3c" stroke="#f83c3c" stroke-width="0.15">Il1b</text>
<rect x="809.7" y="228.2" width="18.3" height="10.4" rx="1.6" fill="#fff" fill-opacity="0.68" stroke="#ff7070" stroke-width="0.9"/>
<text x="818.9" y="235.9" fill="#f83c3c" stroke="#f83c3c" stroke-width="0.15">H19</text>
<rect x="737.6" y="256.3" width="17.4" height="10.8" rx="1.6" fill="#fff" fill-opacity="0.68" stroke="#ff7070" stroke-width="0.9"/>
<text x="746.3" y="264.3" fill="#f83c3c" stroke="#f83c3c" stroke-width="0.15">Il1a</text>
<rect x="700.0" y="265.2" width="17.7" height="10.9" rx="1.6" fill="#fff" fill-opacity="0.68" stroke="#ff7070" stroke-width="0.9"/>
<text x="708.9" y="273.2" fill="#f83c3c" stroke="#f83c3c" stroke-width="0.15">Slpi</text>
<rect x="744.9" y="285.4" width="18.6" height="10.9" rx="1.6" fill="#fff" fill-opacity="0.68" stroke="#ff7070" stroke-width="0.9"/>
<text x="754.2" y="293.4" fill="#f83c3c" stroke="#f83c3c" stroke-width="0.15">Saa</text>
<rect x="737.3" y="316.2" width="29.4" height="10.3" rx="1.6" fill="#fff" fill-opacity="0.68" stroke="#ff7070" stroke-width="0.9"/>
<text x="752.0" y="323.9" fill="#f83c3c" stroke="#f83c3c" stroke-width="0.15">S100a8</text>
<rect x="769.7" y="341.2" width="19.3" height="10.4" rx="1.6" fill="#fff" fill-opacity="0.68" stroke="#ff7070" stroke-width="0.9"/>
<text x="779.4" y="348.9" fill="#f83c3c" stroke="#f83c3c" stroke-width="0.15">Ccl5</text>
</g>
<rect x="912.2" y="177.6" width="13.2" height="19.1" fill="#fff" stroke="#2a2a2a" stroke-width="1.1"/>
<circle cx="918.6" cy="187.2" r="2.95" fill="#ff0000" fill-opacity="0.6"/>
<text x="930.4" y="189.9" font-size="7.1" fill="#111">UP</text>
<rect x="912.2" y="196.7" width="13.2" height="19.1" fill="#fff" stroke="#2a2a2a" stroke-width="1.1"/>
<circle cx="918.6" cy="206.3" r="2.95" fill="#00e400" fill-opacity="0.6"/>
<text x="930.4" y="209.0" font-size="7.1" fill="#111">DOWN</text>
<rect x="912.2" y="215.8" width="13.2" height="19.1" fill="#fff" stroke="#2a2a2a" stroke-width="1.1"/>
<circle cx="918.6" cy="225.4" r="2.95" fill="#000" fill-opacity="0.6"/>
<text x="930.4" y="228.1" font-size="7.1" fill="#111">NOT</text>
</g><g id="go">
<defs><clipPath id="cpc"><rect x="716.3" y="506.4" width="177.10000000000002" height="301.70000000000005"/></clipPath></defs>
<g clip-path="url(#cpc)">
<rect x="724.1" y="509.9" width="146.4" height="6.2" fill="#e41a1c"/>
<text x="873.9" y="515.4" font-size="6.7" fill="#222">5.4e-18</text>
<rect x="724.1" y="519.9" width="141.3" height="6.2" fill="#e41a1c"/>
<text x="868.8" y="525.4" font-size="6.7" fill="#222">2.2e-17</text>
<rect x="724.1" y="529.9" width="137.5" height="6.2" fill="#e41a1c"/>
<text x="865.0" y="535.4" font-size="6.7" fill="#222">6.1e-17</text>
<rect x="724.1" y="539.9" width="127.7" height="6.2" fill="#e41a1c"/>
<text x="855.2" y="545.4" font-size="6.7" fill="#222">8.7e-16</text>
<rect x="724.1" y="549.9" width="107.9" height="6.2" fill="#e41a1c"/>
<text x="835.4" y="555.4" font-size="6.7" fill="#222">1.9e-13</text>
<rect x="724.1" y="559.9" width="107.2" height="6.2" fill="#e41a1c"/>
<text x="834.7" y="565.4" font-size="6.7" fill="#222">2.3e-13</text>
<rect x="724.1" y="569.9" width="104.2" height="6.2" fill="#e41a1c"/>
<text x="831.7" y="575.4" font-size="6.7" fill="#222">5.1e-13</text>
<rect x="724.1" y="579.9" width="99.8" height="6.2" fill="#e41a1c"/>
<text x="827.3" y="585.4" font-size="6.7" fill="#222">1.7e-12</text>
<rect x="724.1" y="589.9" width="99.2" height="6.2" fill="#e41a1c"/>
<text x="826.7" y="595.4" font-size="6.7" fill="#222">2.0e-12</text>
<rect x="724.1" y="599.9" width="99.2" height="6.2" fill="#e41a1c"/>
<text x="826.7" y="605.4" font-size="6.7" fill="#222">2.0e-12</text>
<rect x="724.1" y="609.9" width="92.0" height="6.2" fill="#4daf4a"/>
<text x="819.5" y="615.4" font-size="6.7" fill="#222">1.4e-11</text>
<rect x="724.1" y="619.9" width="89.1" height="6.2" fill="#4daf4a"/>
<text x="816.6" y="625.4" font-size="6.7" fill="#222">3.1e-11</text>
<rect x="724.1" y="629.9" width="86.9" height="6.2" fill="#4daf4a"/>
<text x="814.4" y="635.4" font-size="6.7" fill="#222">5.6e-11</text>
<rect x="724.1" y="639.9" width="69.3" height="6.2" fill="#4daf4a"/>
<text x="796.8" y="645.4" font-size="6.7" fill="#222">6.8e-09</text>
<rect x="724.1" y="649.9" width="65.3" height="6.2" fill="#4daf4a"/>
<text x="792.8" y="655.4" font-size="6.7" fill="#222">2.0e-08</text>
<rect x="724.1" y="659.9" width="64.2" height="6.2" fill="#4daf4a"/>
<text x="791.7" y="665.4" font-size="6.7" fill="#222">2.7e-08</text>
<rect x="724.1" y="669.9" width="63.2" height="6.2" fill="#4daf4a"/>
<text x="790.7" y="675.4" font-size="6.7" fill="#222">3.5e-08</text>
<rect x="724.1" y="679.9" width="59.8" height="6.2" fill="#4daf4a"/>
<text x="787.3" y="685.4" font-size="6.7" fill="#222">8.9e-08</text>
<rect x="724.1" y="689.9" width="56.5" height="6.2" fill="#4daf4a"/>
<text x="784.0" y="695.4" font-size="6.7" fill="#222">2.2e-07</text>
<rect x="724.1" y="699.9" width="55.8" height="6.2" fill="#4daf4a"/>
<text x="783.3" y="705.4" font-size="6.7" fill="#222">2.6e-07</text>
<rect x="724.1" y="709.9" width="49.6" height="6.2" fill="#377eb8"/>
<text x="777.1" y="715.4" font-size="6.7" fill="#222">1.4e-06</text>
<rect x="724.1" y="719.9" width="48.3" height="6.2" fill="#377eb8"/>
<text x="775.8" y="725.4" font-size="6.7" fill="#222">2.0e-06</text>
<rect x="724.1" y="729.9" width="47.7" height="6.2" fill="#377eb8"/>
<text x="775.2" y="735.4" font-size="6.7" fill="#222">2.4e-06</text>
<rect x="724.1" y="739.9" width="46.5" height="6.2" fill="#377eb8"/>
<text x="774.0" y="745.4" font-size="6.7" fill="#222">3.3e-06</text>
<rect x="724.1" y="749.9" width="41.2" height="6.2" fill="#377eb8"/>
<text x="768.7" y="755.4" font-size="6.7" fill="#222">1.4e-05</text>
<rect x="724.1" y="759.9" width="40.4" height="6.2" fill="#377eb8"/>
<text x="767.9" y="765.4" font-size="6.7" fill="#222">1.7e-05</text>
<rect x="724.1" y="769.9" width="39.3" height="6.2" fill="#377eb8"/>
<text x="766.8" y="775.4" font-size="6.7" fill="#222">2.3e-05</text>
<rect x="724.1" y="779.9" width="39.2" height="6.2" fill="#377eb8"/>
<text x="766.7" y="785.4" font-size="6.7" fill="#222">2.4e-05</text>
<rect x="724.1" y="789.9" width="38.7" height="6.2" fill="#377eb8"/>
<text x="766.2" y="795.4" font-size="6.7" fill="#222">2.7e-05</text>
<rect x="724.1" y="799.9" width="38.0" height="6.2" fill="#377eb8"/>
<text x="765.5" y="805.4" font-size="6.7" fill="#222">3.3e-05</text>
</g>
<rect x="716.3" y="506.4" width="177.10000000000002" height="301.70000000000005" fill="none" stroke="#6b6b6b" stroke-width="0.9"/>
<g font-size="8.25" fill="#4d4d4d" text-anchor="end">
<text x="711.2" y="515.9">extracellular space</text>
<text x="711.2" y="525.9">myofibril</text>
<text x="711.2" y="535.9">contractile fiber</text>
<text x="711.2" y="545.9">extracellular region part</text>
<text x="711.2" y="555.9">extracellular region</text>
<text x="711.2" y="565.9">sarcomere</text>
<text x="711.2" y="575.9">contractile fiber part</text>
<text x="711.2" y="585.9">supramolecular fiber</text>
<text x="711.2" y="595.9">supramolecular polymer</text>
<text x="711.2" y="605.9">supramolecular complex</text>
<text x="711.2" y="615.9">acute-phase response</text>
<text x="711.2" y="625.9">muscle contraction</text>
<text x="711.2" y="635.9">muscle system process</text>
<text x="711.2" y="645.9">system process</text>
<text x="711.2" y="655.9">acute inflammatory response</text>
<text x="711.2" y="665.9">heat generation</text>
<text x="711.2" y="675.9">response to organic substance</text>
<text x="711.2" y="685.9">negative regulation of protein secretion</text>
<text x="711.2" y="695.9">negative regulation of peptide secretion</text>
<text x="711.2" y="705.9">negative regulation of hormone secretion</text>
<text x="711.2" y="715.9">endopeptidase inhibitor activity</text>
<text x="711.2" y="725.9">peptidase inhibitor activity</text>
<text x="711.2" y="735.9">actin filament binding</text>
<text x="711.2" y="745.9">endopeptidase regulator activity</text>
<text x="711.2" y="755.9">peptidase regulator activity</text>
<text x="711.2" y="765.9">actin binding</text>
<text x="711.2" y="775.9">insulin-activated receptor activity</text>
<text x="711.2" y="785.9">serine-type endopeptidase inhibitor activity</text>
<text x="711.2" y="795.9">ion binding</text>
<text x="711.2" y="805.9">extracellular matrix structural constituent</text>
</g>
<g stroke="#333" stroke-width="1">
<path d="M713.6 513.0H716.3"/>
<path d="M713.6 523.0H716.3"/>
<path d="M713.6 533.0H716.3"/>
<path d="M713.6 543.0H716.3"/>
<path d="M713.6 553.0H716.3"/>
<path d="M713.6 563.0H716.3"/>
<path d="M713.6 573.0H716.3"/>
<path d="M713.6 583.0H716.3"/>
<path d="M713.6 593.0H716.3"/>
<path d="M713.6 603.0H716.3"/>
<path d="M713.6 613.0H716.3"/>
<path d="M713.6 623.0H716.3"/>
<path d="M713.6 633.0H716.3"/>
<path d="M713.6 643.0H716.3"/>
<path d="M713.6 653.0H716.3"/>
<path d="M713.6 663.0H716.3"/>
<path d="M713.6 673.0H716.3"/>
<path d="M713.6 683.0H716.3"/>
<path d="M713.6 693.0H716.3"/>
<path d="M713.6 703.0H716.3"/>
<path d="M713.6 713.0H716.3"/>
<path d="M713.6 723.0H716.3"/>
<path d="M713.6 733.0H716.3"/>
<path d="M713.6 743.0H716.3"/>
<path d="M713.6 753.0H716.3"/>
<path d="M713.6 763.0H716.3"/>
<path d="M713.6 773.0H716.3"/>
<path d="M713.6 783.0H716.3"/>
<path d="M713.6 793.0H716.3"/>
<path d="M713.6 803.0H716.3"/>
<path d="M724.1 808.1V810.8"/>
<path d="M766.5 808.1V810.8"/>
<path d="M808.9 808.1V810.8"/>
<path d="M851.3 808.1V810.8"/>
</g>
<g font-size="8.9" fill="#4d4d4d" text-anchor="end">
<text x="724.0" y="819.7">0</text>
<text x="766.4" y="819.7">5</text>
<text x="808.8" y="819.7">10</text>
<text x="851.2" y="819.7">15</text>
</g>
<text x="759.6" y="847.2" font-size="13.4" fill="#111">− log<tspan font-size="9.4" dy="2.8">10</tspan><tspan dy="-2.8">(Pvalue)</tspan></text>
<text transform="translate(532.4 741.6) rotate(-90)" font-size="13.22" fill="#222">Enriched GO Terms (Top 30)</text>
<text x="917.8" y="638.4" font-size="10.2" fill="#111">Category</text>
<rect x="918.4" y="645.6" width="11.8" height="11.5" fill="#4daf4a"/>
<text x="936.6" y="653.5" font-size="7.1" fill="#111">BP</text>
<rect x="918.4" y="658.9" width="11.8" height="11.5" fill="#377eb8"/>
<text x="936.6" y="666.8" font-size="7.1" fill="#111">MF</text>
<rect x="918.4" y="672.1" width="11.8" height="11.5" fill="#e41a1c"/>
<text x="936.6" y="680.0" font-size="7.1" fill="#111">CC</text>
</g>
<g id="kegg">
<text x="668.4" y="946.4" font-size="10.78" fill="#111">KEGG Pathways Enrichment(Top 20)</text>
<rect x="667.8" y="952.7" width="220.5" height="342.89999999999986" fill="#fff"/>
<g stroke="#e6e6e6" stroke-width="0.45">
<path d="M681.4 952.7V1295.6" stroke-width="0.7"/>
<path d="M707.9 952.7V1295.6" stroke-width="0.4"/>
<path d="M734.3 952.7V1295.6" stroke-width="0.7"/>
<path d="M760.8 952.7V1295.6" stroke-width="0.4"/>
<path d="M787.2 952.7V1295.6" stroke-width="0.7"/>
<path d="M813.6 952.7V1295.6" stroke-width="0.4"/>
<path d="M840.1 952.7V1295.6" stroke-width="0.7"/>
<path d="M866.5 952.7V1295.6" stroke-width="0.4"/>
<path d="M667.8 963.0H888.3" stroke-width="0.7"/>
<path d="M667.8 980.0H888.3" stroke-width="0.7"/>
<path d="M667.8 997.0H888.3" stroke-width="0.7"/>
<path d="M667.8 1014.0H888.3" stroke-width="0.7"/>
<path d="M667.8 1031.0H888.3" stroke-width="0.7"/>
<path d="M667.8 1048.0H888.3" stroke-width="0.7"/>
<path d="M667.8 1065.1H888.3" stroke-width="0.7"/>
<path d="M667.8 1082.1H888.3" stroke-width="0.7"/>
<path d="M667.8 1099.1H888.3" stroke-width="0.7"/>
<path d="M667.8 1116.1H888.3" stroke-width="0.7"/>
<path d="M667.8 1133.1H888.3" stroke-width="0.7"/>
<path d="M667.8 1150.1H888.3" stroke-width="0.7"/>
<path d="M667.8 1167.1H888.3" stroke-width="0.7"/>
<path d="M667.8 1184.1H888.3" stroke-width="0.7"/>
<path d="M667.8 1201.1H888.3" stroke-width="0.7"/>
<path d="M667.8 1218.2H888.3" stroke-width="0.7"/>
<path d="M667.8 1235.2H888.3" stroke-width="0.7"/>
<path d="M667.8 1252.2H888.3" stroke-width="0.7"/>
<path d="M667.8 1269.2H888.3" stroke-width="0.7"/>
<path d="M667.8 1286.2H888.3" stroke-width="0.7"/>
</g>
<circle cx="878.5" cy="963.0" r="5.35" fill="#a5be1e"/>
<circle cx="860" cy="980.0" r="4.70" fill="#b4aa19"/>
<circle cx="815.1" cy="997.0" r="5.95" fill="#46eb1e"/>
<circle cx="791.9" cy="1014.0" r="5.95" fill="#28f023"/>
<circle cx="783.7" cy="1031.0" r="4.10" fill="#a0be1e"/>
<circle cx="781.2" cy="1048.0" r="4.10" fill="#a0be1e"/>
<circle cx="771.5" cy="1065.1" r="4.10" fill="#96c81e"/>
<circle cx="759.8" cy="1082.1" r="4.10" fill="#96c81e"/>
<circle cx="758.3" cy="1099.1" r="1.30" fill="#ff1e1e"/>
<circle cx="742.9" cy="1116.1" r="4.10" fill="#78dc23"/>
<circle cx="716.5" cy="1133.1" r="3.15" fill="#7dd723"/>
<circle cx="709.6" cy="1150.1" r="3.15" fill="#7dd723"/>
<circle cx="701.1" cy="1167.1" r="3.15" fill="#7dd723"/>
<circle cx="693.3" cy="1184.1" r="3.15" fill="#7dd723"/>
<circle cx="692" cy="1201.1" r="1.15" fill="#afa51e"/>
<circle cx="692" cy="1218.2" r="1.15" fill="#be961e"/>
<circle cx="685.1" cy="1235.2" r="4.80" fill="#19f528"/>
<circle cx="683.5" cy="1252.2" r="1.15" fill="#aaaa1e"/>
<circle cx="680.1" cy="1269.2" r="3.15" fill="#5fe12d"/>
<circle cx="678.2" cy="1286.2" r="1.15" fill="#aaaa1e"/>
<rect x="667.8" y="952.7" width="220.5" height="342.89999999999986" fill="none" stroke="#444" stroke-width="0.9"/>
<g font-size="7.2" fill="#3c3c3c" text-anchor="end">
<text x="662.2" y="965.2">Platelet activation</text>
<text x="662.2" y="982.3">Dilated cardiomyopathy</text>
<text x="662.2" y="999.3">Focal adhesion</text>
<text x="662.2" y="1016.3">Calcium signaling pathway</text>
<text x="662.2" y="1033.3">ECM-receptor interaction</text>
<text x="662.2" y="1050.3">Protein digestion and absorption</text>
<text x="662.2" y="1067.3">Hypertrophic cardiomyopathy</text>
<text x="662.2" y="1084.3">Amoebiasis</text>
<text x="662.2" y="1101.3">Starch and sucrose metabolism</text>
<text x="662.2" y="1118.3">AGE-RAGE signaling pathway in diabetic complications</text>
<text x="662.2" y="1135.3">Pertussis</text>
<text x="662.2" y="1152.4">Arrhythmogenic right ventricular cardiomyopathy</text>
<text x="662.2" y="1169.4">Retinol metabolism</text>
<text x="662.2" y="1186.4">Cardiac muscle contraction</text>
<text x="662.2" y="1203.4">Type I diabetes mellitus</text>
<text x="662.2" y="1220.4">Malaria</text>
<text x="662.2" y="1237.4">Chemical carcinogenesis - receptor activation</text>
<text x="662.2" y="1254.4">Tryptophan metabolism</text>
<text x="662.2" y="1271.4">Complement and coagulation cascades</text>
<text x="662.2" y="1288.4">Ovarian steroidogenesis</text>
</g>
<g stroke="#333" stroke-width="1">
<path d="M665.4 963.0H667.8"/>
<path d="M665.4 980.0H667.8"/>
<path d="M665.4 997.0H667.8"/>
<path d="M665.4 1014.0H667.8"/>
<path d="M665.4 1031.0H667.8"/>
<path d="M665.4 1048.0H667.8"/>
<path d="M665.4 1065.1H667.8"/>
<path d="M665.4 1082.1H667.8"/>
<path d="M665.4 1099.1H667.8"/>
<path d="M665.4 1116.1H667.8"/>
<path d="M665.4 1133.1H667.8"/>
<path d="M665.4 1150.1H667.8"/>
<path d="M665.4 1167.1H667.8"/>
<path d="M665.4 1184.1H667.8"/>
<path d="M665.4 1201.1H667.8"/>
<path d="M665.4 1218.2H667.8"/>
<path d="M665.4 1235.2H667.8"/>
<path d="M665.4 1252.2H667.8"/>
<path d="M665.4 1269.2H667.8"/>
<path d="M665.4 1286.2H667.8"/>
<path d="M681.4 1295.6V1298.1999999999998"/>
<path d="M734.3 1295.6V1298.1999999999998"/>
<path d="M787.2 1295.6V1298.1999999999998"/>
<path d="M840.1 1295.6V1298.1999999999998"/>
</g>
<g font-size="6.9" fill="#3c3c3c" text-anchor="middle">
<text x="681.4" y="1306">2</text>
<text x="734.3" y="1306">2.5</text>
<text x="787.2" y="1306">3</text>
<text x="840.1" y="1306">&gt;3</text>
</g>
<text x="746.4" y="1316.6" font-size="9.4" fill="#111">− log<tspan font-size="6.6" dy="1.9">10</tspan><tspan dy="-1.9">(p.value)</tspan></text>
<text x="902" y="1032.8" font-size="8.9" fill="#111">Rich factor</text>
<defs><linearGradient id="rg" x1="0" y1="0" x2="0" y2="1"><stop offset="0" stop-color="#ff2200"/><stop offset="0.25" stop-color="#e07a14"/><stop offset="0.5" stop-color="#b9aa1e"/><stop offset="0.75" stop-color="#7fd228"/><stop offset="1" stop-color="#2df532"/></linearGradient></defs>
<rect x="902.1" y="1038" width="14.1" height="70" fill="url(#rg)"/>
<g stroke="#fff" stroke-width="0.4" stroke-opacity="0.8">
<path d="M902.1 1050.9h2.8M913.4 1050.9h2.8"/>
<path d="M902.1 1067.9h2.8M913.4 1067.9h2.8"/>
<path d="M902.1 1084.5h2.8M913.4 1084.5h2.8"/>
<path d="M902.1 1101.5h2.8M913.4 1101.5h2.8"/>
</g>
<g font-size="7.6" fill="#111">
<text x="920.7" y="1053.6">0.10</text>
<text x="920.7" y="1070.6">0.08</text>
<text x="920.7" y="1087.2">0.06</text>
<text x="920.7" y="1104.2">0.04</text>
</g>
<text x="902" y="1134" font-size="8.9" fill="#111">Gene number</text>
<circle cx="909.3" cy="1145.9" r="1.00" fill="#000"/>
<text x="920.7" y="1148.6" font-size="7.6" fill="#111">3</text>
<circle cx="909.3" cy="1160.3" r="3.15" fill="#000"/>
<text x="920.7" y="1163.0" font-size="7.6" fill="#111">4</text>
<circle cx="909.3" cy="1174.4" r="4.10" fill="#000"/>
<text x="920.7" y="1177.1" font-size="7.6" fill="#111">5</text>
<circle cx="909.3" cy="1188.6" r="4.70" fill="#000"/>
<text x="920.7" y="1191.3" font-size="7.6" fill="#111">6</text>
<circle cx="909.3" cy="1202.7" r="5.35" fill="#000"/>
<text x="920.7" y="1205.4" font-size="7.6" fill="#111">7</text>
<circle cx="909.3" cy="1216.8" r="5.95" fill="#000"/>
<text x="920.7" y="1219.5" font-size="7.6" fill="#111">8</text>
</g>
</svg></body></html>
